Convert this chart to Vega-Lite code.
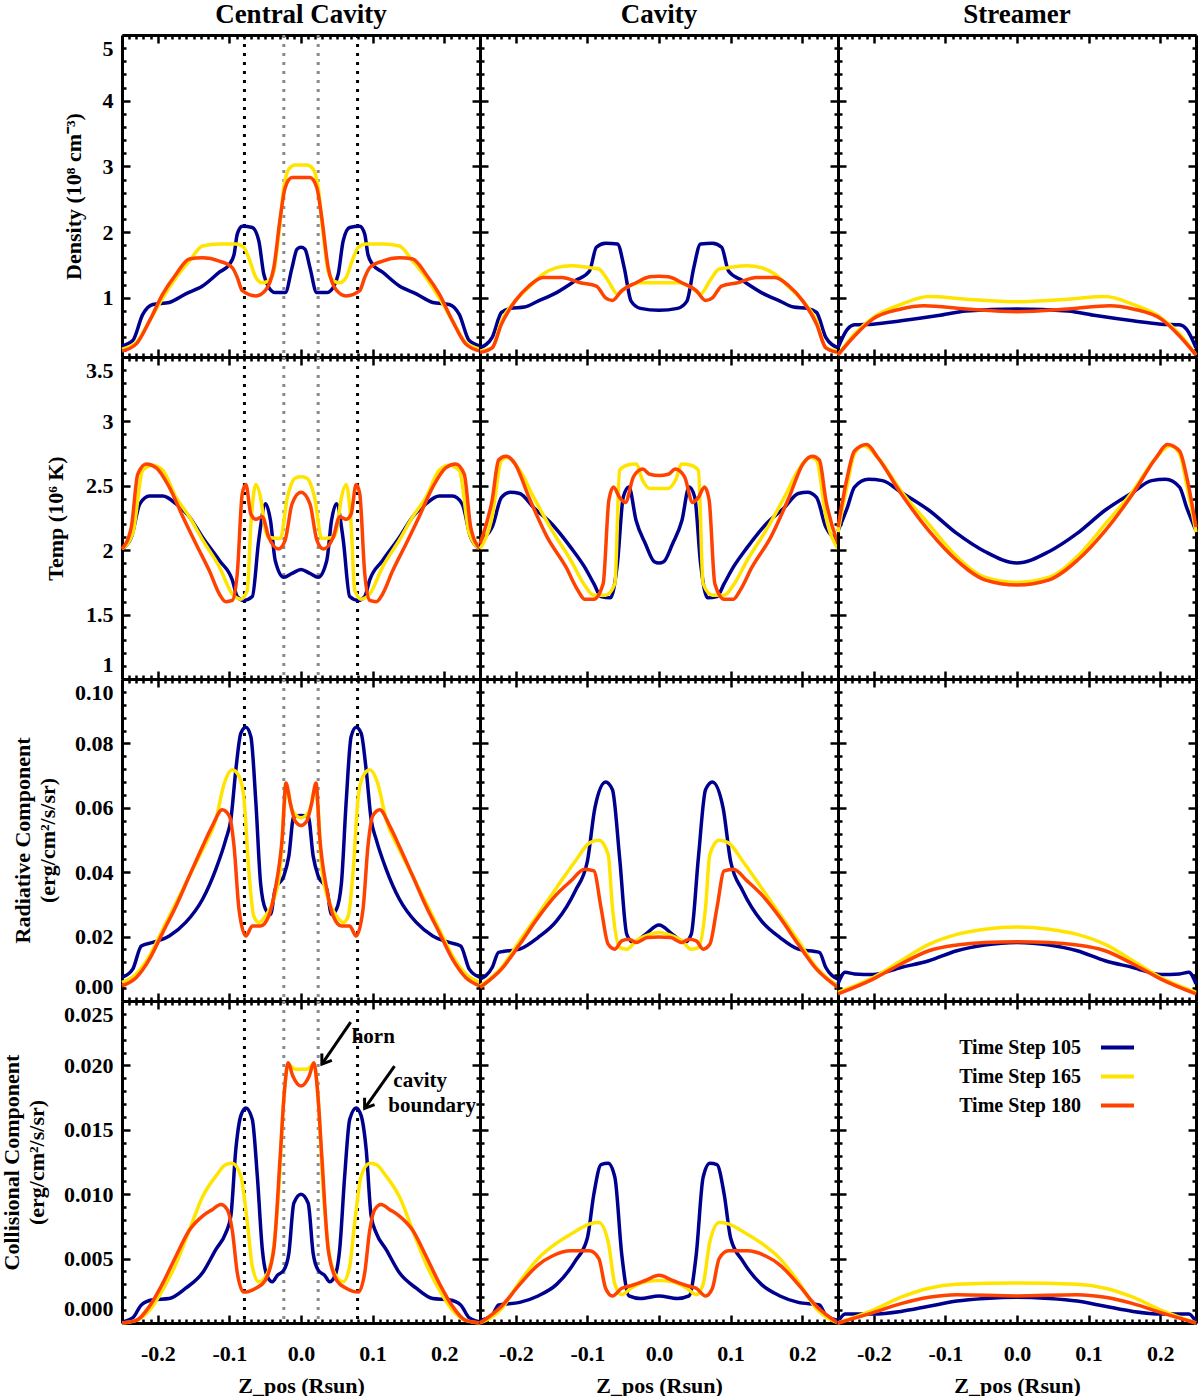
{
"$schema":"https://vega.github.io/schema/vega-lite/v6.json",
"padding":{"left":0,"top":0,"right":5,"bottom":0},
"datasets":{
"bounds":[{"z":-0.079,"k":"b"},{"z":0.079,"k":"b"},{"z":-0.024,"k":"h"},{"z":0.024,"k":"h"}],
"den_cc":[
{"s":"105","z":-0.25,"v":0.27},{"s":"105","z":-0.235,"v":0.35},{"s":"105","z":-0.221,"v":0.75},{"s":"105","z":-0.207,"v":0.9},{"s":"105","z":-0.184,"v":0.93},{"s":"105","z":-0.161,"v":1.06},{"s":"105","z":-0.1375,"v":1.18},{"s":"105","z":-0.114,"v":1.39},{"s":"105","z":-0.1,"v":1.51},{"s":"105","z":-0.0935,"v":1.66},{"s":"105","z":-0.089,"v":1.97},{"s":"105","z":-0.082,"v":2.09},{"s":"105","z":-0.068,"v":2.07},{"s":"105","z":-0.059,"v":1.87},{"s":"105","z":-0.052,"v":1.36},{"s":"105","z":-0.045,"v":1.16},{"s":"105","z":-0.036,"v":1.08},{"s":"105","z":-0.022,"v":1.08},{"s":"105","z":-0.0125,"v":1.46},{"s":"105","z":-0.0056,"v":1.74},{"s":"105","z":0,"v":1.77},{"s":"105","z":0.0056,"v":1.74},{"s":"105","z":0.0125,"v":1.46},{"s":"105","z":0.022,"v":1.08},{"s":"105","z":0.036,"v":1.08},{"s":"105","z":0.045,"v":1.16},{"s":"105","z":0.052,"v":1.36},{"s":"105","z":0.059,"v":1.87},{"s":"105","z":0.068,"v":2.07},{"s":"105","z":0.082,"v":2.09},{"s":"105","z":0.089,"v":1.97},{"s":"105","z":0.0935,"v":1.66},{"s":"105","z":0.1,"v":1.51},{"s":"105","z":0.114,"v":1.39},{"s":"105","z":0.1375,"v":1.18},{"s":"105","z":0.161,"v":1.06},{"s":"105","z":0.184,"v":0.93},{"s":"105","z":0.207,"v":0.9},{"s":"105","z":0.221,"v":0.75},{"s":"105","z":0.235,"v":0.35},{"s":"105","z":0.25,"v":0.27},
{"s":"165","z":-0.25,"v":0.22},{"s":"165","z":-0.23,"v":0.32},{"s":"165","z":-0.2116,"v":0.65},{"s":"165","z":-0.193,"v":1.0},{"s":"165","z":-0.1745,"v":1.31},{"s":"165","z":-0.156,"v":1.56},{"s":"165","z":-0.1375,"v":1.79},{"s":"165","z":-0.114,"v":1.82},{"s":"165","z":-0.091,"v":1.82},{"s":"165","z":-0.08,"v":1.77},{"s":"165","z":-0.073,"v":1.61},{"s":"165","z":-0.063,"v":1.31},{"s":"165","z":-0.054,"v":1.23},{"s":"165","z":-0.045,"v":1.26},{"s":"165","z":-0.038,"v":1.4},{"s":"165","z":-0.031,"v":1.97},{"s":"165","z":-0.024,"v":2.68},{"s":"165","z":-0.017,"v":2.96},{"s":"165","z":-0.008,"v":3.02},{"s":"165","z":0,"v":3.02},{"s":"165","z":0.008,"v":3.02},{"s":"165","z":0.017,"v":2.96},{"s":"165","z":0.024,"v":2.68},{"s":"165","z":0.031,"v":1.97},{"s":"165","z":0.038,"v":1.4},{"s":"165","z":0.045,"v":1.26},{"s":"165","z":0.054,"v":1.23},{"s":"165","z":0.063,"v":1.31},{"s":"165","z":0.073,"v":1.61},{"s":"165","z":0.08,"v":1.77},{"s":"165","z":0.091,"v":1.82},{"s":"165","z":0.114,"v":1.82},{"s":"165","z":0.1375,"v":1.79},{"s":"165","z":0.156,"v":1.56},{"s":"165","z":0.1745,"v":1.31},{"s":"165","z":0.193,"v":1.0},{"s":"165","z":0.2116,"v":0.65},{"s":"165","z":0.23,"v":0.32},{"s":"165","z":0.25,"v":0.22},
{"s":"180","z":-0.25,"v":0.19},{"s":"180","z":-0.23,"v":0.3},{"s":"180","z":-0.2116,"v":0.65},{"s":"180","z":-0.193,"v":1.06},{"s":"180","z":-0.1745,"v":1.36},{"s":"180","z":-0.156,"v":1.59},{"s":"180","z":-0.1375,"v":1.61},{"s":"180","z":-0.114,"v":1.56},{"s":"180","z":-0.096,"v":1.46},{"s":"180","z":-0.089,"v":1.31},{"s":"180","z":-0.082,"v":1.11},{"s":"180","z":-0.063,"v":1.03},{"s":"180","z":-0.05,"v":1.11},{"s":"180","z":-0.038,"v":1.46},{"s":"180","z":-0.029,"v":2.22},{"s":"180","z":-0.022,"v":2.68},{"s":"180","z":-0.0125,"v":2.83},{"s":"180","z":0,"v":2.83},{"s":"180","z":0.0125,"v":2.83},{"s":"180","z":0.022,"v":2.68},{"s":"180","z":0.029,"v":2.22},{"s":"180","z":0.038,"v":1.46},{"s":"180","z":0.05,"v":1.11},{"s":"180","z":0.063,"v":1.03},{"s":"180","z":0.082,"v":1.11},{"s":"180","z":0.089,"v":1.31},{"s":"180","z":0.096,"v":1.46},{"s":"180","z":0.114,"v":1.56},{"s":"180","z":0.1375,"v":1.61},{"s":"180","z":0.156,"v":1.59},{"s":"180","z":0.1745,"v":1.36},{"s":"180","z":0.193,"v":1.06},{"s":"180","z":0.2116,"v":0.65},{"s":"180","z":0.23,"v":0.3},{"s":"180","z":0.25,"v":0.19}
],
"den_cav":[
{"s":"105","z":-0.25,"v":0.24},{"s":"105","z":-0.233,"v":0.4},{"s":"105","z":-0.22,"v":0.78},{"s":"105","z":-0.2075,"v":0.84},{"s":"105","z":-0.188,"v":0.86},{"s":"105","z":-0.169,"v":0.95},{"s":"105","z":-0.143,"v":1.08},{"s":"105","z":-0.117,"v":1.26},{"s":"105","z":-0.097,"v":1.41},{"s":"105","z":-0.0875,"v":1.77},{"s":"105","z":-0.0746,"v":1.83},{"s":"105","z":-0.058,"v":1.82},{"s":"105","z":-0.0486,"v":1.46},{"s":"105","z":-0.039,"v":0.95},{"s":"105","z":-0.026,"v":0.84},{"s":"105","z":0,"v":0.81},{"s":"105","z":0.026,"v":0.84},{"s":"105","z":0.039,"v":0.95},{"s":"105","z":0.0486,"v":1.46},{"s":"105","z":0.058,"v":1.82},{"s":"105","z":0.0746,"v":1.83},{"s":"105","z":0.0875,"v":1.77},{"s":"105","z":0.097,"v":1.41},{"s":"105","z":0.117,"v":1.26},{"s":"105","z":0.143,"v":1.08},{"s":"105","z":0.169,"v":0.95},{"s":"105","z":0.188,"v":0.86},{"s":"105","z":0.2075,"v":0.84},{"s":"105","z":0.22,"v":0.78},{"s":"105","z":0.233,"v":0.4},{"s":"105","z":0.25,"v":0.24},
{"s":"165","z":-0.25,"v":0.19},{"s":"165","z":-0.233,"v":0.24},{"s":"165","z":-0.22,"v":0.65},{"s":"165","z":-0.201,"v":0.95},{"s":"165","z":-0.1816,"v":1.16},{"s":"165","z":-0.162,"v":1.36},{"s":"165","z":-0.143,"v":1.46},{"s":"165","z":-0.123,"v":1.49},{"s":"165","z":-0.097,"v":1.46},{"s":"165","z":-0.084,"v":1.44},{"s":"165","z":-0.071,"v":1.26},{"s":"165","z":-0.058,"v":1.06},{"s":"165","z":-0.045,"v":1.16},{"s":"165","z":-0.026,"v":1.23},{"s":"165","z":0,"v":1.23},{"s":"165","z":0.026,"v":1.23},{"s":"165","z":0.045,"v":1.16},{"s":"165","z":0.058,"v":1.06},{"s":"165","z":0.071,"v":1.26},{"s":"165","z":0.084,"v":1.44},{"s":"165","z":0.097,"v":1.46},{"s":"165","z":0.123,"v":1.49},{"s":"165","z":0.143,"v":1.46},{"s":"165","z":0.162,"v":1.36},{"s":"165","z":0.1816,"v":1.16},{"s":"165","z":0.201,"v":0.95},{"s":"165","z":0.22,"v":0.65},{"s":"165","z":0.233,"v":0.24},{"s":"165","z":0.25,"v":0.19},
{"s":"180","z":-0.25,"v":0.17},{"s":"180","z":-0.233,"v":0.24},{"s":"180","z":-0.22,"v":0.6},{"s":"180","z":-0.201,"v":0.95},{"s":"180","z":-0.1816,"v":1.18},{"s":"180","z":-0.162,"v":1.31},{"s":"180","z":-0.136,"v":1.31},{"s":"180","z":-0.11,"v":1.23},{"s":"180","z":-0.0875,"v":1.18},{"s":"180","z":-0.0746,"v":1.0},{"s":"180","z":-0.065,"v":0.96},{"s":"180","z":-0.052,"v":1.11},{"s":"180","z":-0.032,"v":1.23},{"s":"180","z":-0.013,"v":1.32},{"s":"180","z":0,"v":1.33},{"s":"180","z":0.013,"v":1.32},{"s":"180","z":0.032,"v":1.23},{"s":"180","z":0.052,"v":1.11},{"s":"180","z":0.065,"v":0.96},{"s":"180","z":0.0746,"v":1.0},{"s":"180","z":0.0875,"v":1.18},{"s":"180","z":0.11,"v":1.23},{"s":"180","z":0.136,"v":1.31},{"s":"180","z":0.162,"v":1.31},{"s":"180","z":0.1816,"v":1.18},{"s":"180","z":0.201,"v":0.95},{"s":"180","z":0.22,"v":0.6},{"s":"180","z":0.233,"v":0.24},{"s":"180","z":0.25,"v":0.17}
],
"den_str":[
{"s":"105","z":-0.25,"v":0.24},{"s":"105","z":-0.237,"v":0.52},{"s":"105","z":-0.227,"v":0.59},{"s":"105","z":-0.201,"v":0.6},{"s":"105","z":-0.162,"v":0.65},{"s":"105","z":-0.11,"v":0.73},{"s":"105","z":-0.071,"v":0.8},{"s":"105","z":0,"v":0.83},{"s":"105","z":0.071,"v":0.8},{"s":"105","z":0.11,"v":0.73},{"s":"105","z":0.162,"v":0.65},{"s":"105","z":0.201,"v":0.6},{"s":"105","z":0.227,"v":0.59},{"s":"105","z":0.237,"v":0.52},{"s":"105","z":0.25,"v":0.24},
{"s":"165","z":-0.25,"v":0.13},{"s":"165","z":-0.227,"v":0.45},{"s":"165","z":-0.201,"v":0.7},{"s":"165","z":-0.162,"v":0.9},{"s":"165","z":-0.123,"v":1.02},{"s":"165","z":-0.071,"v":0.98},{"s":"165","z":0,"v":0.94},{"s":"165","z":0.071,"v":0.98},{"s":"165","z":0.123,"v":1.02},{"s":"165","z":0.162,"v":0.9},{"s":"165","z":0.201,"v":0.7},{"s":"165","z":0.227,"v":0.45},{"s":"165","z":0.25,"v":0.13},
{"s":"180","z":-0.25,"v":0.13},{"s":"180","z":-0.227,"v":0.42},{"s":"180","z":-0.201,"v":0.68},{"s":"180","z":-0.162,"v":0.83},{"s":"180","z":-0.13,"v":0.88},{"s":"180","z":-0.071,"v":0.83},{"s":"180","z":0,"v":0.79},{"s":"180","z":0.071,"v":0.83},{"s":"180","z":0.13,"v":0.88},{"s":"180","z":0.162,"v":0.83},{"s":"180","z":0.201,"v":0.68},{"s":"180","z":0.227,"v":0.42},{"s":"180","z":0.25,"v":0.13}
],
"tem_cc":[
{"s":"105","z":-0.25,"v":2.01},{"s":"105","z":-0.237,"v":2.1},{"s":"105","z":-0.225,"v":2.36},{"s":"105","z":-0.2116,"v":2.42},{"s":"105","z":-0.193,"v":2.42},{"s":"105","z":-0.1745,"v":2.36},{"s":"105","z":-0.156,"v":2.26},{"s":"105","z":-0.1375,"v":2.1},{"s":"105","z":-0.114,"v":1.92},{"s":"105","z":-0.096,"v":1.77},{"s":"105","z":-0.089,"v":1.64},{"s":"105","z":-0.08,"v":1.61},{"s":"105","z":-0.068,"v":1.64},{"s":"105","z":-0.059,"v":2.08},{"s":"105","z":-0.0495,"v":2.36},{"s":"105","z":-0.0426,"v":2.23},{"s":"105","z":-0.036,"v":1.92},{"s":"105","z":-0.024,"v":1.79},{"s":"105","z":-0.0125,"v":1.82},{"s":"105","z":0,"v":1.85},{"s":"105","z":0.0125,"v":1.82},{"s":"105","z":0.024,"v":1.79},{"s":"105","z":0.036,"v":1.92},{"s":"105","z":0.0426,"v":2.23},{"s":"105","z":0.0495,"v":2.36},{"s":"105","z":0.059,"v":2.08},{"s":"105","z":0.068,"v":1.64},{"s":"105","z":0.08,"v":1.61},{"s":"105","z":0.089,"v":1.64},{"s":"105","z":0.096,"v":1.77},{"s":"105","z":0.114,"v":1.92},{"s":"105","z":0.1375,"v":2.1},{"s":"105","z":0.156,"v":2.26},{"s":"105","z":0.1745,"v":2.36},{"s":"105","z":0.193,"v":2.42},{"s":"105","z":0.2116,"v":2.42},{"s":"105","z":0.225,"v":2.36},{"s":"105","z":0.237,"v":2.1},{"s":"105","z":0.25,"v":2.01},
{"s":"165","z":-0.25,"v":2.01},{"s":"165","z":-0.235,"v":2.13},{"s":"165","z":-0.221,"v":2.62},{"s":"165","z":-0.207,"v":2.66},{"s":"165","z":-0.193,"v":2.62},{"s":"165","z":-0.1745,"v":2.41},{"s":"165","z":-0.156,"v":2.26},{"s":"165","z":-0.1375,"v":2.08},{"s":"165","z":-0.114,"v":1.87},{"s":"165","z":-0.096,"v":1.66},{"s":"165","z":-0.084,"v":1.62},{"s":"165","z":-0.075,"v":1.69},{"s":"165","z":-0.07,"v":2.2},{"s":"165","z":-0.063,"v":2.51},{"s":"165","z":-0.0565,"v":2.41},{"s":"165","z":-0.0495,"v":2.15},{"s":"165","z":-0.045,"v":2.1},{"s":"165","z":-0.029,"v":2.09},{"s":"165","z":-0.019,"v":2.41},{"s":"165","z":-0.008,"v":2.56},{"s":"165","z":0,"v":2.57},{"s":"165","z":0.008,"v":2.56},{"s":"165","z":0.019,"v":2.41},{"s":"165","z":0.029,"v":2.09},{"s":"165","z":0.045,"v":2.1},{"s":"165","z":0.0495,"v":2.15},{"s":"165","z":0.0565,"v":2.41},{"s":"165","z":0.063,"v":2.51},{"s":"165","z":0.07,"v":2.2},{"s":"165","z":0.075,"v":1.69},{"s":"165","z":0.084,"v":1.62},{"s":"165","z":0.096,"v":1.66},{"s":"165","z":0.114,"v":1.87},{"s":"165","z":0.1375,"v":2.08},{"s":"165","z":0.156,"v":2.26},{"s":"165","z":0.1745,"v":2.41},{"s":"165","z":0.193,"v":2.62},{"s":"165","z":0.207,"v":2.66},{"s":"165","z":0.221,"v":2.62},{"s":"165","z":0.235,"v":2.13},{"s":"165","z":0.25,"v":2.01},
{"s":"180","z":-0.25,"v":2.01},{"s":"180","z":-0.237,"v":2.18},{"s":"180","z":-0.228,"v":2.59},{"s":"180","z":-0.216,"v":2.67},{"s":"180","z":-0.202,"v":2.64},{"s":"180","z":-0.184,"v":2.49},{"s":"180","z":-0.165,"v":2.26},{"s":"180","z":-0.1468,"v":2.05},{"s":"180","z":-0.128,"v":1.84},{"s":"180","z":-0.114,"v":1.66},{"s":"180","z":-0.105,"v":1.6},{"s":"180","z":-0.096,"v":1.61},{"s":"180","z":-0.089,"v":1.82},{"s":"180","z":-0.082,"v":2.44},{"s":"180","z":-0.077,"v":2.51},{"s":"180","z":-0.07,"v":2.28},{"s":"180","z":-0.063,"v":2.24},{"s":"180","z":-0.054,"v":2.26},{"s":"180","z":-0.045,"v":2.1},{"s":"180","z":-0.031,"v":2.01},{"s":"180","z":-0.022,"v":2.08},{"s":"180","z":-0.0125,"v":2.36},{"s":"180","z":0,"v":2.45},{"s":"180","z":0.0125,"v":2.36},{"s":"180","z":0.022,"v":2.08},{"s":"180","z":0.031,"v":2.01},{"s":"180","z":0.045,"v":2.1},{"s":"180","z":0.054,"v":2.26},{"s":"180","z":0.063,"v":2.24},{"s":"180","z":0.07,"v":2.28},{"s":"180","z":0.077,"v":2.51},{"s":"180","z":0.082,"v":2.44},{"s":"180","z":0.089,"v":1.82},{"s":"180","z":0.096,"v":1.61},{"s":"180","z":0.105,"v":1.6},{"s":"180","z":0.114,"v":1.66},{"s":"180","z":0.128,"v":1.84},{"s":"180","z":0.1468,"v":2.05},{"s":"180","z":0.165,"v":2.26},{"s":"180","z":0.184,"v":2.49},{"s":"180","z":0.202,"v":2.64},{"s":"180","z":0.216,"v":2.67},{"s":"180","z":0.228,"v":2.59},{"s":"180","z":0.237,"v":2.18},{"s":"180","z":0.25,"v":2.01}
],
"tem_cav":[
{"s":"105","z":-0.25,"v":2.08},{"s":"105","z":-0.233,"v":2.18},{"s":"105","z":-0.22,"v":2.41},{"s":"105","z":-0.2075,"v":2.45},{"s":"105","z":-0.1945,"v":2.44},{"s":"105","z":-0.175,"v":2.33},{"s":"105","z":-0.149,"v":2.2},{"s":"105","z":-0.123,"v":2.02},{"s":"105","z":-0.104,"v":1.87},{"s":"105","z":-0.091,"v":1.74},{"s":"105","z":-0.081,"v":1.64},{"s":"105","z":-0.068,"v":1.63},{"s":"105","z":-0.058,"v":1.9},{"s":"105","z":-0.05,"v":2.41},{"s":"105","z":-0.042,"v":2.49},{"s":"105","z":-0.032,"v":2.23},{"s":"105","z":-0.019,"v":2.05},{"s":"105","z":-0.0065,"v":1.91},{"s":"105","z":0,"v":1.9},{"s":"105","z":0.0065,"v":1.91},{"s":"105","z":0.019,"v":2.05},{"s":"105","z":0.032,"v":2.23},{"s":"105","z":0.042,"v":2.49},{"s":"105","z":0.05,"v":2.41},{"s":"105","z":0.058,"v":1.9},{"s":"105","z":0.068,"v":1.63},{"s":"105","z":0.081,"v":1.64},{"s":"105","z":0.091,"v":1.74},{"s":"105","z":0.104,"v":1.87},{"s":"105","z":0.123,"v":2.02},{"s":"105","z":0.149,"v":2.2},{"s":"105","z":0.175,"v":2.33},{"s":"105","z":0.1945,"v":2.44},{"s":"105","z":0.2075,"v":2.45},{"s":"105","z":0.22,"v":2.41},{"s":"105","z":0.233,"v":2.18},{"s":"105","z":0.25,"v":2.08},
{"s":"165","z":-0.25,"v":2.01},{"s":"165","z":-0.233,"v":2.26},{"s":"165","z":-0.22,"v":2.7},{"s":"165","z":-0.211,"v":2.72},{"s":"165","z":-0.1945,"v":2.62},{"s":"165","z":-0.175,"v":2.41},{"s":"165","z":-0.149,"v":2.15},{"s":"165","z":-0.123,"v":1.92},{"s":"165","z":-0.104,"v":1.73},{"s":"165","z":-0.091,"v":1.65},{"s":"165","z":-0.0746,"v":1.65},{"s":"165","z":-0.0616,"v":1.74},{"s":"165","z":-0.055,"v":2.62},{"s":"165","z":-0.045,"v":2.66},{"s":"165","z":-0.032,"v":2.67},{"s":"165","z":-0.0227,"v":2.54},{"s":"165","z":-0.013,"v":2.48},{"s":"165","z":0,"v":2.48},{"s":"165","z":0.013,"v":2.48},{"s":"165","z":0.0227,"v":2.54},{"s":"165","z":0.032,"v":2.67},{"s":"165","z":0.045,"v":2.66},{"s":"165","z":0.055,"v":2.62},{"s":"165","z":0.0616,"v":1.74},{"s":"165","z":0.0746,"v":1.65},{"s":"165","z":0.091,"v":1.65},{"s":"165","z":0.104,"v":1.73},{"s":"165","z":0.123,"v":1.92},{"s":"165","z":0.149,"v":2.15},{"s":"165","z":0.175,"v":2.41},{"s":"165","z":0.1945,"v":2.62},{"s":"165","z":0.211,"v":2.72},{"s":"165","z":0.22,"v":2.7},{"s":"165","z":0.233,"v":2.26},{"s":"165","z":0.25,"v":2.01},
{"s":"180","z":-0.25,"v":2.05},{"s":"180","z":-0.233,"v":2.39},{"s":"180","z":-0.224,"v":2.7},{"s":"180","z":-0.214,"v":2.73},{"s":"180","z":-0.201,"v":2.67},{"s":"180","z":-0.1816,"v":2.41},{"s":"180","z":-0.156,"v":2.1},{"s":"180","z":-0.13,"v":1.87},{"s":"180","z":-0.1135,"v":1.69},{"s":"180","z":-0.104,"v":1.62},{"s":"180","z":-0.091,"v":1.62},{"s":"180","z":-0.078,"v":1.74},{"s":"180","z":-0.07,"v":2.39},{"s":"180","z":-0.0636,"v":2.49},{"s":"180","z":-0.055,"v":2.41},{"s":"180","z":-0.047,"v":2.37},{"s":"180","z":-0.0357,"v":2.57},{"s":"180","z":-0.0227,"v":2.63},{"s":"180","z":-0.013,"v":2.59},{"s":"180","z":0,"v":2.58},{"s":"180","z":0.013,"v":2.59},{"s":"180","z":0.0227,"v":2.63},{"s":"180","z":0.0357,"v":2.57},{"s":"180","z":0.047,"v":2.37},{"s":"180","z":0.055,"v":2.41},{"s":"180","z":0.0636,"v":2.49},{"s":"180","z":0.07,"v":2.39},{"s":"180","z":0.078,"v":1.74},{"s":"180","z":0.091,"v":1.62},{"s":"180","z":0.104,"v":1.62},{"s":"180","z":0.1135,"v":1.69},{"s":"180","z":0.13,"v":1.87},{"s":"180","z":0.156,"v":2.1},{"s":"180","z":0.1816,"v":2.41},{"s":"180","z":0.201,"v":2.67},{"s":"180","z":0.214,"v":2.73},{"s":"180","z":0.224,"v":2.7},{"s":"180","z":0.233,"v":2.39},{"s":"180","z":0.25,"v":2.05}
],
"tem_str":[
{"s":"105","z":-0.25,"v":2.15},{"s":"105","z":-0.237,"v":2.33},{"s":"105","z":-0.227,"v":2.49},{"s":"105","z":-0.2075,"v":2.55},{"s":"105","z":-0.188,"v":2.54},{"s":"105","z":-0.162,"v":2.45},{"s":"105","z":-0.123,"v":2.31},{"s":"105","z":-0.084,"v":2.13},{"s":"105","z":-0.045,"v":1.99},{"s":"105","z":0,"v":1.9},{"s":"105","z":0.045,"v":1.99},{"s":"105","z":0.084,"v":2.13},{"s":"105","z":0.123,"v":2.31},{"s":"105","z":0.162,"v":2.45},{"s":"105","z":0.188,"v":2.54},{"s":"105","z":0.2075,"v":2.55},{"s":"105","z":0.227,"v":2.49},{"s":"105","z":0.237,"v":2.33},{"s":"105","z":0.25,"v":2.15},
{"s":"165","z":-0.25,"v":2.14},{"s":"165","z":-0.237,"v":2.51},{"s":"165","z":-0.227,"v":2.75},{"s":"165","z":-0.214,"v":2.81},{"s":"165","z":-0.1945,"v":2.72},{"s":"165","z":-0.162,"v":2.46},{"s":"165","z":-0.123,"v":2.2},{"s":"165","z":-0.084,"v":1.95},{"s":"165","z":-0.045,"v":1.79},{"s":"165","z":0,"v":1.75},{"s":"165","z":0.045,"v":1.79},{"s":"165","z":0.084,"v":1.95},{"s":"165","z":0.123,"v":2.2},{"s":"165","z":0.162,"v":2.46},{"s":"165","z":0.1945,"v":2.72},{"s":"165","z":0.214,"v":2.81},{"s":"165","z":0.227,"v":2.75},{"s":"165","z":0.237,"v":2.51},{"s":"165","z":0.25,"v":2.14},
{"s":"180","z":-0.25,"v":2.18},{"s":"180","z":-0.237,"v":2.57},{"s":"180","z":-0.227,"v":2.77},{"s":"180","z":-0.21,"v":2.82},{"s":"180","z":-0.1945,"v":2.72},{"s":"180","z":-0.162,"v":2.44},{"s":"180","z":-0.123,"v":2.15},{"s":"180","z":-0.084,"v":1.92},{"s":"180","z":-0.045,"v":1.77},{"s":"180","z":0,"v":1.73},{"s":"180","z":0.045,"v":1.77},{"s":"180","z":0.084,"v":1.92},{"s":"180","z":0.123,"v":2.15},{"s":"180","z":0.162,"v":2.44},{"s":"180","z":0.1945,"v":2.72},{"s":"180","z":0.21,"v":2.82},{"s":"180","z":0.227,"v":2.77},{"s":"180","z":0.237,"v":2.57},{"s":"180","z":0.25,"v":2.18}
],
"rad_cc":[
{"s":"105","z":-0.25,"v":0.0073},{"s":"105","z":-0.235,"v":0.0099},{"s":"105","z":-0.223,"v":0.0171},{"s":"105","z":-0.207,"v":0.0182},{"s":"105","z":-0.184,"v":0.0202},{"s":"105","z":-0.161,"v":0.0244},{"s":"105","z":-0.1375,"v":0.0316},{"s":"105","z":-0.119,"v":0.0409},{"s":"105","z":-0.105,"v":0.0502},{"s":"105","z":-0.098,"v":0.0563},{"s":"105","z":-0.091,"v":0.0718},{"s":"105","z":-0.084,"v":0.0832},{"s":"105","z":-0.077,"v":0.085},{"s":"105","z":-0.07,"v":0.0821},{"s":"105","z":-0.063,"v":0.0615},{"s":"105","z":-0.0565,"v":0.0367},{"s":"105","z":-0.0495,"v":0.0285},{"s":"105","z":-0.0426,"v":0.0269},{"s":"105","z":-0.036,"v":0.0347},{"s":"105","z":-0.024,"v":0.0388},{"s":"105","z":-0.017,"v":0.045},{"s":"105","z":-0.01,"v":0.0574},{"s":"105","z":0,"v":0.0576},{"s":"105","z":0.01,"v":0.0574},{"s":"105","z":0.017,"v":0.045},{"s":"105","z":0.024,"v":0.0388},{"s":"105","z":0.036,"v":0.0347},{"s":"105","z":0.0426,"v":0.0269},{"s":"105","z":0.0495,"v":0.0285},{"s":"105","z":0.0565,"v":0.0367},{"s":"105","z":0.063,"v":0.0615},{"s":"105","z":0.07,"v":0.0821},{"s":"105","z":0.077,"v":0.085},{"s":"105","z":0.084,"v":0.0832},{"s":"105","z":0.091,"v":0.0718},{"s":"105","z":0.098,"v":0.0563},{"s":"105","z":0.105,"v":0.0502},{"s":"105","z":0.119,"v":0.0409},{"s":"105","z":0.1375,"v":0.0316},{"s":"105","z":0.161,"v":0.0244},{"s":"105","z":0.184,"v":0.0202},{"s":"105","z":0.207,"v":0.0182},{"s":"105","z":0.223,"v":0.0171},{"s":"105","z":0.235,"v":0.0099},{"s":"105","z":0.25,"v":0.0073},
{"s":"165","z":-0.25,"v":0.0058},{"s":"165","z":-0.23,"v":0.0084},{"s":"165","z":-0.2116,"v":0.014},{"s":"165","z":-0.193,"v":0.0223},{"s":"165","z":-0.1745,"v":0.0305},{"s":"165","z":-0.156,"v":0.0388},{"s":"165","z":-0.1375,"v":0.047},{"s":"165","z":-0.119,"v":0.0563},{"s":"165","z":-0.107,"v":0.0677},{"s":"165","z":-0.096,"v":0.0718},{"s":"165","z":-0.0866,"v":0.0698},{"s":"165","z":-0.08,"v":0.0636},{"s":"165","z":-0.073,"v":0.0409},{"s":"165","z":-0.066,"v":0.0264},{"s":"165","z":-0.059,"v":0.0244},{"s":"165","z":-0.0495,"v":0.0264},{"s":"165","z":-0.038,"v":0.0316},{"s":"165","z":-0.029,"v":0.0409},{"s":"165","z":-0.024,"v":0.0594},{"s":"165","z":-0.019,"v":0.0656},{"s":"165","z":-0.0125,"v":0.0594},{"s":"165","z":0,"v":0.0569},{"s":"165","z":0.0125,"v":0.0594},{"s":"165","z":0.019,"v":0.0656},{"s":"165","z":0.024,"v":0.0594},{"s":"165","z":0.029,"v":0.0409},{"s":"165","z":0.038,"v":0.0316},{"s":"165","z":0.0495,"v":0.0264},{"s":"165","z":0.059,"v":0.0244},{"s":"165","z":0.066,"v":0.0264},{"s":"165","z":0.073,"v":0.0409},{"s":"165","z":0.08,"v":0.0636},{"s":"165","z":0.0866,"v":0.0698},{"s":"165","z":0.096,"v":0.0718},{"s":"165","z":0.107,"v":0.0677},{"s":"165","z":0.119,"v":0.0563},{"s":"165","z":0.1375,"v":0.047},{"s":"165","z":0.156,"v":0.0388},{"s":"165","z":0.1745,"v":0.0305},{"s":"165","z":0.193,"v":0.0223},{"s":"165","z":0.2116,"v":0.014},{"s":"165","z":0.23,"v":0.0084},{"s":"165","z":0.25,"v":0.0058},
{"s":"180","z":-0.25,"v":0.0047},{"s":"180","z":-0.23,"v":0.0073},{"s":"180","z":-0.2116,"v":0.013},{"s":"180","z":-0.193,"v":0.0213},{"s":"180","z":-0.1745,"v":0.0295},{"s":"180","z":-0.156,"v":0.0388},{"s":"180","z":-0.1375,"v":0.048},{"s":"180","z":-0.124,"v":0.0543},{"s":"180","z":-0.11,"v":0.0594},{"s":"180","z":-0.1,"v":0.0574},{"s":"180","z":-0.0935,"v":0.048},{"s":"180","z":-0.0866,"v":0.0285},{"s":"180","z":-0.077,"v":0.0202},{"s":"180","z":-0.068,"v":0.0233},{"s":"180","z":-0.0565,"v":0.0233},{"s":"180","z":-0.045,"v":0.0264},{"s":"180","z":-0.036,"v":0.0347},{"s":"180","z":-0.026,"v":0.0512},{"s":"180","z":-0.021,"v":0.0677},{"s":"180","z":-0.015,"v":0.0615},{"s":"180","z":-0.008,"v":0.0558},{"s":"180","z":0,"v":0.0545},{"s":"180","z":0.008,"v":0.0558},{"s":"180","z":0.015,"v":0.0615},{"s":"180","z":0.021,"v":0.0677},{"s":"180","z":0.026,"v":0.0512},{"s":"180","z":0.036,"v":0.0347},{"s":"180","z":0.045,"v":0.0264},{"s":"180","z":0.0565,"v":0.0233},{"s":"180","z":0.068,"v":0.0233},{"s":"180","z":0.077,"v":0.0202},{"s":"180","z":0.0866,"v":0.0285},{"s":"180","z":0.0935,"v":0.048},{"s":"180","z":0.1,"v":0.0574},{"s":"180","z":0.11,"v":0.0594},{"s":"180","z":0.124,"v":0.0543},{"s":"180","z":0.1375,"v":0.048},{"s":"180","z":0.156,"v":0.0388},{"s":"180","z":0.1745,"v":0.0295},{"s":"180","z":0.193,"v":0.0213},{"s":"180","z":0.2116,"v":0.013},{"s":"180","z":0.23,"v":0.0073},{"s":"180","z":0.25,"v":0.0047}
],
"rad_cav":[
{"s":"105","z":-0.25,"v":0.0068},{"s":"105","z":-0.233,"v":0.0104},{"s":"105","z":-0.224,"v":0.0151},{"s":"105","z":-0.1945,"v":0.0161},{"s":"105","z":-0.169,"v":0.0197},{"s":"105","z":-0.143,"v":0.0249},{"s":"105","z":-0.117,"v":0.0342},{"s":"105","z":-0.1,"v":0.0434},{"s":"105","z":-0.0895,"v":0.06},{"s":"105","z":-0.0746,"v":0.068},{"s":"105","z":-0.065,"v":0.0656},{"s":"105","z":-0.055,"v":0.0445},{"s":"105","z":-0.045,"v":0.0207},{"s":"105","z":-0.036,"v":0.0182},{"s":"105","z":-0.019,"v":0.0207},{"s":"105","z":0,"v":0.0236},{"s":"105","z":0.019,"v":0.0207},{"s":"105","z":0.036,"v":0.0182},{"s":"105","z":0.045,"v":0.0207},{"s":"105","z":0.055,"v":0.0445},{"s":"105","z":0.065,"v":0.0656},{"s":"105","z":0.0746,"v":0.068},{"s":"105","z":0.0895,"v":0.06},{"s":"105","z":0.1,"v":0.0434},{"s":"105","z":0.117,"v":0.0342},{"s":"105","z":0.143,"v":0.0249},{"s":"105","z":0.169,"v":0.0197},{"s":"105","z":0.1945,"v":0.0161},{"s":"105","z":0.224,"v":0.0151},{"s":"105","z":0.233,"v":0.0104},{"s":"105","z":0.25,"v":0.0068},
{"s":"165","z":-0.25,"v":0.0047},{"s":"165","z":-0.22,"v":0.0104},{"s":"165","z":-0.1945,"v":0.0187},{"s":"165","z":-0.169,"v":0.0269},{"s":"165","z":-0.143,"v":0.0352},{"s":"165","z":-0.117,"v":0.0434},{"s":"165","z":-0.097,"v":0.0491},{"s":"165","z":-0.084,"v":0.0499},{"s":"165","z":-0.071,"v":0.0455},{"s":"165","z":-0.065,"v":0.029},{"s":"165","z":-0.055,"v":0.0166},{"s":"165","z":-0.045,"v":0.0161},{"s":"165","z":-0.032,"v":0.0187},{"s":"165","z":-0.013,"v":0.0207},{"s":"165","z":0,"v":0.0213},{"s":"165","z":0.013,"v":0.0207},{"s":"165","z":0.032,"v":0.0187},{"s":"165","z":0.045,"v":0.0161},{"s":"165","z":0.055,"v":0.0166},{"s":"165","z":0.065,"v":0.029},{"s":"165","z":0.071,"v":0.0455},{"s":"165","z":0.084,"v":0.0499},{"s":"165","z":0.097,"v":0.0491},{"s":"165","z":0.117,"v":0.0434},{"s":"165","z":0.143,"v":0.0352},{"s":"165","z":0.169,"v":0.0269},{"s":"165","z":0.1945,"v":0.0187},{"s":"165","z":0.22,"v":0.0104},{"s":"165","z":0.25,"v":0.0047},
{"s":"180","z":-0.25,"v":0.0042},{"s":"180","z":-0.22,"v":0.0099},{"s":"180","z":-0.1945,"v":0.0176},{"s":"180","z":-0.169,"v":0.0259},{"s":"180","z":-0.143,"v":0.0331},{"s":"180","z":-0.123,"v":0.0373},{"s":"180","z":-0.104,"v":0.0409},{"s":"180","z":-0.091,"v":0.0404},{"s":"180","z":-0.081,"v":0.029},{"s":"180","z":-0.071,"v":0.0176},{"s":"180","z":-0.0616,"v":0.0161},{"s":"180","z":-0.052,"v":0.0187},{"s":"180","z":-0.042,"v":0.0192},{"s":"180","z":-0.032,"v":0.0182},{"s":"180","z":-0.016,"v":0.0197},{"s":"180","z":0,"v":0.0199},{"s":"180","z":0.016,"v":0.0197},{"s":"180","z":0.032,"v":0.0182},{"s":"180","z":0.042,"v":0.0192},{"s":"180","z":0.052,"v":0.0187},{"s":"180","z":0.0616,"v":0.0161},{"s":"180","z":0.071,"v":0.0176},{"s":"180","z":0.081,"v":0.029},{"s":"180","z":0.091,"v":0.0404},{"s":"180","z":0.104,"v":0.0409},{"s":"180","z":0.123,"v":0.0373},{"s":"180","z":0.143,"v":0.0331},{"s":"180","z":0.169,"v":0.0259},{"s":"180","z":0.1945,"v":0.0176},{"s":"180","z":0.22,"v":0.0099},{"s":"180","z":0.25,"v":0.0042}
],
"rad_str":[
{"s":"105","z":-0.25,"v":0.0053},{"s":"105","z":-0.24,"v":0.0089},{"s":"105","z":-0.227,"v":0.0084},{"s":"105","z":-0.201,"v":0.0082},{"s":"105","z":-0.162,"v":0.0104},{"s":"105","z":-0.123,"v":0.0125},{"s":"105","z":-0.084,"v":0.0156},{"s":"105","z":-0.045,"v":0.0174},{"s":"105","z":0,"v":0.0182},{"s":"105","z":0.045,"v":0.0174},{"s":"105","z":0.084,"v":0.0156},{"s":"105","z":0.123,"v":0.0125},{"s":"105","z":0.162,"v":0.0104},{"s":"105","z":0.201,"v":0.0082},{"s":"105","z":0.227,"v":0.0084},{"s":"105","z":0.24,"v":0.0089},{"s":"105","z":0.25,"v":0.0053},
{"s":"165","z":-0.25,"v":0.0027},{"s":"165","z":-0.201,"v":0.0073},{"s":"165","z":-0.162,"v":0.0125},{"s":"165","z":-0.123,"v":0.0176},{"s":"165","z":-0.084,"v":0.0207},{"s":"165","z":-0.045,"v":0.0223},{"s":"165","z":0,"v":0.023},{"s":"165","z":0.045,"v":0.0223},{"s":"165","z":0.084,"v":0.0207},{"s":"165","z":0.123,"v":0.0176},{"s":"165","z":0.162,"v":0.0125},{"s":"165","z":0.201,"v":0.0073},{"s":"165","z":0.25,"v":0.0027},
{"s":"180","z":-0.25,"v":0.0022},{"s":"180","z":-0.201,"v":0.0068},{"s":"180","z":-0.162,"v":0.0115},{"s":"180","z":-0.123,"v":0.0156},{"s":"180","z":-0.084,"v":0.0174},{"s":"180","z":-0.045,"v":0.0182},{"s":"180","z":0,"v":0.0184},{"s":"180","z":0.045,"v":0.0182},{"s":"180","z":0.084,"v":0.0174},{"s":"180","z":0.123,"v":0.0156},{"s":"180","z":0.162,"v":0.0115},{"s":"180","z":0.201,"v":0.0068},{"s":"180","z":0.25,"v":0.0022}
],
"col_cc":[
{"s":"105","z":-0.25,"v":0.0001},{"s":"105","z":-0.235,"v":0.0004},{"s":"105","z":-0.223,"v":0.0014},{"s":"105","z":-0.207,"v":0.0018},{"s":"105","z":-0.184,"v":0.0019},{"s":"105","z":-0.161,"v":0.0027},{"s":"105","z":-0.1375,"v":0.0039},{"s":"105","z":-0.119,"v":0.0057},{"s":"105","z":-0.105,"v":0.007},{"s":"105","z":-0.098,"v":0.0083},{"s":"105","z":-0.091,"v":0.0135},{"s":"105","z":-0.084,"v":0.0161},{"s":"105","z":-0.077,"v":0.0167},{"s":"105","z":-0.068,"v":0.0158},{"s":"105","z":-0.061,"v":0.0114},{"s":"105","z":-0.054,"v":0.0057},{"s":"105","z":-0.047,"v":0.0036},{"s":"105","z":-0.04,"v":0.0032},{"s":"105","z":-0.033,"v":0.0037},{"s":"105","z":-0.024,"v":0.0041},{"s":"105","z":-0.017,"v":0.0054},{"s":"105","z":-0.01,"v":0.0093},{"s":"105","z":0,"v":0.01},{"s":"105","z":0.01,"v":0.0093},{"s":"105","z":0.017,"v":0.0054},{"s":"105","z":0.024,"v":0.0041},{"s":"105","z":0.033,"v":0.0037},{"s":"105","z":0.04,"v":0.0032},{"s":"105","z":0.047,"v":0.0036},{"s":"105","z":0.054,"v":0.0057},{"s":"105","z":0.061,"v":0.0114},{"s":"105","z":0.068,"v":0.0158},{"s":"105","z":0.077,"v":0.0167},{"s":"105","z":0.084,"v":0.0161},{"s":"105","z":0.091,"v":0.0135},{"s":"105","z":0.098,"v":0.0083},{"s":"105","z":0.105,"v":0.007},{"s":"105","z":0.119,"v":0.0057},{"s":"105","z":0.1375,"v":0.0039},{"s":"105","z":0.161,"v":0.0027},{"s":"105","z":0.184,"v":0.0019},{"s":"105","z":0.207,"v":0.0018},{"s":"105","z":0.223,"v":0.0014},{"s":"105","z":0.235,"v":0.0004},{"s":"105","z":0.25,"v":0.0001},
{"s":"165","z":-0.25,"v":0.0},{"s":"165","z":-0.23,"v":0.0002},{"s":"165","z":-0.2116,"v":0.001},{"s":"165","z":-0.193,"v":0.0026},{"s":"165","z":-0.1745,"v":0.0046},{"s":"165","z":-0.156,"v":0.0072},{"s":"165","z":-0.1375,"v":0.0098},{"s":"165","z":-0.119,"v":0.0114},{"s":"165","z":-0.105,"v":0.0123},{"s":"165","z":-0.096,"v":0.0124},{"s":"165","z":-0.084,"v":0.0114},{"s":"165","z":-0.075,"v":0.0078},{"s":"165","z":-0.068,"v":0.0044},{"s":"165","z":-0.059,"v":0.0032},{"s":"165","z":-0.0495,"v":0.0036},{"s":"165","z":-0.04,"v":0.0052},{"s":"165","z":-0.031,"v":0.0104},{"s":"165","z":-0.024,"v":0.0174},{"s":"165","z":-0.018,"v":0.0201},{"s":"165","z":-0.008,"v":0.0197},{"s":"165","z":0,"v":0.0197},{"s":"165","z":0.008,"v":0.0197},{"s":"165","z":0.018,"v":0.0201},{"s":"165","z":0.024,"v":0.0174},{"s":"165","z":0.031,"v":0.0104},{"s":"165","z":0.04,"v":0.0052},{"s":"165","z":0.0495,"v":0.0036},{"s":"165","z":0.059,"v":0.0032},{"s":"165","z":0.068,"v":0.0044},{"s":"165","z":0.075,"v":0.0078},{"s":"165","z":0.084,"v":0.0114},{"s":"165","z":0.096,"v":0.0124},{"s":"165","z":0.105,"v":0.0123},{"s":"165","z":0.119,"v":0.0114},{"s":"165","z":0.1375,"v":0.0098},{"s":"165","z":0.156,"v":0.0072},{"s":"165","z":0.1745,"v":0.0046},{"s":"165","z":0.193,"v":0.0026},{"s":"165","z":0.2116,"v":0.001},{"s":"165","z":0.23,"v":0.0002},{"s":"165","z":0.25,"v":0.0},
{"s":"180","z":-0.25,"v":0.0},{"s":"180","z":-0.23,"v":0.0002},{"s":"180","z":-0.2116,"v":0.0013},{"s":"180","z":-0.193,"v":0.0031},{"s":"180","z":-0.1745,"v":0.0052},{"s":"180","z":-0.156,"v":0.0072},{"s":"180","z":-0.1375,"v":0.0083},{"s":"180","z":-0.124,"v":0.0088},{"s":"180","z":-0.112,"v":0.0092},{"s":"180","z":-0.103,"v":0.0088},{"s":"180","z":-0.096,"v":0.0072},{"s":"180","z":-0.089,"v":0.0039},{"s":"180","z":-0.08,"v":0.0024},{"s":"180","z":-0.063,"v":0.0027},{"s":"180","z":-0.05,"v":0.0033},{"s":"180","z":-0.038,"v":0.0057},{"s":"180","z":-0.029,"v":0.013},{"s":"180","z":-0.023,"v":0.0181},{"s":"180","z":-0.018,"v":0.0202},{"s":"180","z":-0.0116,"v":0.0192},{"s":"180","z":0,"v":0.0184},{"s":"180","z":0.0116,"v":0.0192},{"s":"180","z":0.018,"v":0.0202},{"s":"180","z":0.023,"v":0.0181},{"s":"180","z":0.029,"v":0.013},{"s":"180","z":0.038,"v":0.0057},{"s":"180","z":0.05,"v":0.0033},{"s":"180","z":0.063,"v":0.0027},{"s":"180","z":0.08,"v":0.0024},{"s":"180","z":0.089,"v":0.0039},{"s":"180","z":0.096,"v":0.0072},{"s":"180","z":0.103,"v":0.0088},{"s":"180","z":0.112,"v":0.0092},{"s":"180","z":0.124,"v":0.0088},{"s":"180","z":0.1375,"v":0.0083},{"s":"180","z":0.156,"v":0.0072},{"s":"180","z":0.1745,"v":0.0052},{"s":"180","z":0.193,"v":0.0031},{"s":"180","z":0.2116,"v":0.0013},{"s":"180","z":0.23,"v":0.0002},{"s":"180","z":0.25,"v":0.0}
],
"col_cav":[
{"s":"105","z":-0.25,"v":0.0002},{"s":"105","z":-0.233,"v":0.0006},{"s":"105","z":-0.224,"v":0.0014},{"s":"105","z":-0.1945,"v":0.0016},{"s":"105","z":-0.169,"v":0.0021},{"s":"105","z":-0.143,"v":0.003},{"s":"105","z":-0.117,"v":0.0048},{"s":"105","z":-0.1,"v":0.0066},{"s":"105","z":-0.091,"v":0.01},{"s":"105","z":-0.081,"v":0.0123},{"s":"105","z":-0.071,"v":0.0124},{"s":"105","z":-0.0616,"v":0.0113},{"s":"105","z":-0.052,"v":0.0053},{"s":"105","z":-0.042,"v":0.0021},{"s":"105","z":-0.026,"v":0.0019},{"s":"105","z":0,"v":0.0021},{"s":"105","z":0.026,"v":0.0019},{"s":"105","z":0.042,"v":0.0021},{"s":"105","z":0.052,"v":0.0053},{"s":"105","z":0.0616,"v":0.0113},{"s":"105","z":0.071,"v":0.0124},{"s":"105","z":0.081,"v":0.0123},{"s":"105","z":0.091,"v":0.01},{"s":"105","z":0.1,"v":0.0066},{"s":"105","z":0.117,"v":0.0048},{"s":"105","z":0.143,"v":0.003},{"s":"105","z":0.169,"v":0.0021},{"s":"105","z":0.1945,"v":0.0016},{"s":"105","z":0.224,"v":0.0014},{"s":"105","z":0.233,"v":0.0006},{"s":"105","z":0.25,"v":0.0002},
{"s":"165","z":-0.25,"v":0.0},{"s":"165","z":-0.22,"v":0.0011},{"s":"165","z":-0.1945,"v":0.0032},{"s":"165","z":-0.169,"v":0.005},{"s":"165","z":-0.143,"v":0.0062},{"s":"165","z":-0.117,"v":0.0071},{"s":"165","z":-0.097,"v":0.0077},{"s":"165","z":-0.084,"v":0.0078},{"s":"165","z":-0.071,"v":0.0063},{"s":"165","z":-0.0616,"v":0.003},{"s":"165","z":-0.052,"v":0.0022},{"s":"165","z":-0.039,"v":0.0027},{"s":"165","z":-0.019,"v":0.0032},{"s":"165","z":0,"v":0.0033},{"s":"165","z":0.019,"v":0.0032},{"s":"165","z":0.039,"v":0.0027},{"s":"165","z":0.052,"v":0.0022},{"s":"165","z":0.0616,"v":0.003},{"s":"165","z":0.071,"v":0.0063},{"s":"165","z":0.084,"v":0.0078},{"s":"165","z":0.097,"v":0.0077},{"s":"165","z":0.117,"v":0.0071},{"s":"165","z":0.143,"v":0.0062},{"s":"165","z":0.169,"v":0.005},{"s":"165","z":0.1945,"v":0.0032},{"s":"165","z":0.22,"v":0.0011},{"s":"165","z":0.25,"v":0.0},
{"s":"180","z":-0.25,"v":0.0},{"s":"180","z":-0.22,"v":0.0013},{"s":"180","z":-0.1945,"v":0.003},{"s":"180","z":-0.169,"v":0.0045},{"s":"180","z":-0.149,"v":0.0052},{"s":"180","z":-0.123,"v":0.0056},{"s":"180","z":-0.097,"v":0.0056},{"s":"180","z":-0.084,"v":0.005},{"s":"180","z":-0.0746,"v":0.0027},{"s":"180","z":-0.065,"v":0.0021},{"s":"180","z":-0.052,"v":0.0027},{"s":"180","z":-0.039,"v":0.0029},{"s":"180","z":-0.019,"v":0.0033},{"s":"180","z":0,"v":0.0037},{"s":"180","z":0.019,"v":0.0033},{"s":"180","z":0.039,"v":0.0029},{"s":"180","z":0.052,"v":0.0027},{"s":"180","z":0.065,"v":0.0021},{"s":"180","z":0.0746,"v":0.0027},{"s":"180","z":0.084,"v":0.005},{"s":"180","z":0.097,"v":0.0056},{"s":"180","z":0.123,"v":0.0056},{"s":"180","z":0.149,"v":0.0052},{"s":"180","z":0.169,"v":0.0045},{"s":"180","z":0.1945,"v":0.003},{"s":"180","z":0.22,"v":0.0013},{"s":"180","z":0.25,"v":0.0}
],
"col_str":[
{"s":"105","z":-0.25,"v":0.0001},{"s":"105","z":-0.24,"v":0.0007},{"s":"105","z":-0.201,"v":0.0007},{"s":"105","z":-0.162,"v":0.0009},{"s":"105","z":-0.123,"v":0.0013},{"s":"105","z":-0.084,"v":0.0017},{"s":"105","z":-0.045,"v":0.0019},{"s":"105","z":0,"v":0.002},{"s":"105","z":0.045,"v":0.0019},{"s":"105","z":0.084,"v":0.0017},{"s":"105","z":0.123,"v":0.0013},{"s":"105","z":0.162,"v":0.0009},{"s":"105","z":0.201,"v":0.0007},{"s":"105","z":0.24,"v":0.0007},{"s":"105","z":0.25,"v":0.0001},
{"s":"165","z":-0.25,"v":0.0},{"s":"165","z":-0.201,"v":0.001},{"s":"165","z":-0.162,"v":0.002},{"s":"165","z":-0.123,"v":0.0027},{"s":"165","z":-0.084,"v":0.003},{"s":"165","z":0,"v":0.0031},{"s":"165","z":0.084,"v":0.003},{"s":"165","z":0.123,"v":0.0027},{"s":"165","z":0.162,"v":0.002},{"s":"165","z":0.201,"v":0.001},{"s":"165","z":0.25,"v":0.0},
{"s":"180","z":-0.25,"v":0.0},{"s":"180","z":-0.201,"v":0.0008},{"s":"180","z":-0.162,"v":0.0015},{"s":"180","z":-0.123,"v":0.002},{"s":"180","z":-0.084,"v":0.0022},{"s":"180","z":0,"v":0.0021},{"s":"180","z":0.084,"v":0.0022},{"s":"180","z":0.123,"v":0.002},{"s":"180","z":0.162,"v":0.0015},{"s":"180","z":0.201,"v":0.0008},{"s":"180","z":0.25,"v":0.0}
]
},
"columns":3,
"spacing":0,
"bounds":"flush",
"resolve":{"scale":{"x":"independent","y":"independent","color":"independent","stroke":"independent"}},
"concat":[
{"width":358,"height":322,"title":"Central Cavity",
 "layer":[
  {"data":{"name":"bounds"},"mark":{"type":"rule","strokeDash":[3,6],"strokeWidth":3},"encoding":{"x":{"field":"z","type":"quantitative","scale":{"domain":[-0.25,0.25],"nice":false,"zero":false},"axis":null},"stroke":{"field":"k","type":"nominal","scale":{"domain":["b","h"],"range":["#000000","#8a8a8a"]},"legend":null}}},
  {"data":{"name":"den_cc"},"mark":{"type":"line","interpolate":"monotone","strokeWidth":3.5},"encoding":{
   "x":{"field":"z","type":"quantitative","scale":{"domain":[-0.25,0.25],"nice":false,"zero":false},"axis":{"orient":"bottom","values":[-0.24,-0.23,-0.22,-0.21,-0.2,-0.19,-0.18,-0.17,-0.16,-0.15,-0.14,-0.13,-0.12,-0.11,-0.1,-0.09,-0.08,-0.07,-0.06,-0.05,-0.04,-0.03,-0.02,-0.01,0,0.01,0.02,0.03,0.04,0.05,0.06,0.07,0.08,0.09,0.1,0.11,0.12,0.13,0.14,0.15,0.16,0.17,0.18,0.19,0.2,0.21,0.22,0.23,0.24],"tickSize":{"condition":{"test":"abs(datum.value*10-round(datum.value*10))<0.001","value":-8},"value":-4},"labels":false,"title":null}},
   "y":{"field":"v","type":"quantitative","scale":{"domain":[0.1,5],"nice":false,"zero":false},"axis":{"orient":"left","values":[0.2,0.4,0.6,0.8,1,1.2,1.4,1.6,1.8,2,2.2,2.4,2.6,2.8,3,3.2,3.4,3.6,3.8,4,4.2,4.4,4.6,4.8,5],"tickSize":{"condition":{"test":"abs(datum.value-round(datum.value))<0.001","value":-8},"value":-4},"labelExpr":"abs(datum.value-round(datum.value))<0.001 ? format(datum.value,'d') : ''","labelFlush":true,"labelFlushOffset":-3,"labelPadding":17,"title":"Density (10⁸ cm⁻³)","titlePadding":17}},
   "color":{"field":"s","type":"nominal","scale":{"domain":["105","165","180"],"range":["#00008f","#ffe400","#ff4200"]},"legend":null}}},
  {"data":{"name":"den_cc"},"mark":{"type":"line","strokeOpacity":0},"encoding":{
   "x":{"field":"z","type":"quantitative","scale":{"domain":[-0.25,0.25],"nice":false,"zero":false},"axis":{"orient":"top","values":[-0.24,-0.23,-0.22,-0.21,-0.2,-0.19,-0.18,-0.17,-0.16,-0.15,-0.14,-0.13,-0.12,-0.11,-0.1,-0.09,-0.08,-0.07,-0.06,-0.05,-0.04,-0.03,-0.02,-0.01,0,0.01,0.02,0.03,0.04,0.05,0.06,0.07,0.08,0.09,0.1,0.11,0.12,0.13,0.14,0.15,0.16,0.17,0.18,0.19,0.2,0.21,0.22,0.23,0.24],"tickSize":{"condition":{"test":"abs(datum.value*10-round(datum.value*10))<0.001","value":-8},"value":-4},"labels":false,"title":null}},
   "y":{"field":"v","type":"quantitative","scale":{"domain":[0.1,5],"nice":false,"zero":false},"axis":{"orient":"right","values":[0.2,0.4,0.6,0.8,1,1.2,1.4,1.6,1.8,2,2.2,2.4,2.6,2.8,3,3.2,3.4,3.6,3.8,4,4.2,4.4,4.6,4.8,5],"tickSize":{"condition":{"test":"abs(datum.value-round(datum.value))<0.001","value":-8},"value":-4},"labels":false,"title":null}},
   "detail":{"field":"s"}}}
 ],
 "resolve":{"axis":{"x":"independent","y":"independent"}}},
{"width":358,"height":322,"title":"Cavity",
 "layer":[
  {"data":{"name":"den_cav"},"mark":{"type":"line","interpolate":"monotone","strokeWidth":3.5},"encoding":{
   "x":{"field":"z","type":"quantitative","scale":{"domain":[-0.25,0.25],"nice":false,"zero":false},"axis":{"orient":"bottom","values":[-0.24,-0.23,-0.22,-0.21,-0.2,-0.19,-0.18,-0.17,-0.16,-0.15,-0.14,-0.13,-0.12,-0.11,-0.1,-0.09,-0.08,-0.07,-0.06,-0.05,-0.04,-0.03,-0.02,-0.01,0,0.01,0.02,0.03,0.04,0.05,0.06,0.07,0.08,0.09,0.1,0.11,0.12,0.13,0.14,0.15,0.16,0.17,0.18,0.19,0.2,0.21,0.22,0.23,0.24],"tickSize":{"condition":{"test":"abs(datum.value*10-round(datum.value*10))<0.001","value":-8},"value":-4},"labels":false,"title":null}},
   "y":{"field":"v","type":"quantitative","scale":{"domain":[0.1,5],"nice":false,"zero":false},"axis":{"orient":"left","values":[0.2,0.4,0.6,0.8,1,1.2,1.4,1.6,1.8,2,2.2,2.4,2.6,2.8,3,3.2,3.4,3.6,3.8,4,4.2,4.4,4.6,4.8,5],"tickSize":{"condition":{"test":"abs(datum.value-round(datum.value))<0.001","value":-8},"value":-4},"labels":false,"title":null}},
   "color":{"field":"s","type":"nominal","scale":{"domain":["105","165","180"],"range":["#00008f","#ffe400","#ff4200"]},"legend":null}}},
  {"data":{"name":"den_cav"},"mark":{"type":"line","strokeOpacity":0},"encoding":{
   "x":{"field":"z","type":"quantitative","scale":{"domain":[-0.25,0.25],"nice":false,"zero":false},"axis":{"orient":"top","values":[-0.24,-0.23,-0.22,-0.21,-0.2,-0.19,-0.18,-0.17,-0.16,-0.15,-0.14,-0.13,-0.12,-0.11,-0.1,-0.09,-0.08,-0.07,-0.06,-0.05,-0.04,-0.03,-0.02,-0.01,0,0.01,0.02,0.03,0.04,0.05,0.06,0.07,0.08,0.09,0.1,0.11,0.12,0.13,0.14,0.15,0.16,0.17,0.18,0.19,0.2,0.21,0.22,0.23,0.24],"tickSize":{"condition":{"test":"abs(datum.value*10-round(datum.value*10))<0.001","value":-8},"value":-4},"labels":false,"title":null}},
   "y":{"field":"v","type":"quantitative","scale":{"domain":[0.1,5],"nice":false,"zero":false},"axis":{"orient":"right","values":[0.2,0.4,0.6,0.8,1,1.2,1.4,1.6,1.8,2,2.2,2.4,2.6,2.8,3,3.2,3.4,3.6,3.8,4,4.2,4.4,4.6,4.8,5],"tickSize":{"condition":{"test":"abs(datum.value-round(datum.value))<0.001","value":-8},"value":-4},"labels":false,"title":null}},
   "detail":{"field":"s"}}}
 ],
 "resolve":{"axis":{"x":"independent","y":"independent"}}},
{"width":358,"height":322,"title":"Streamer",
 "layer":[
  {"data":{"name":"den_str"},"mark":{"type":"line","interpolate":"monotone","strokeWidth":3.5},"encoding":{
   "x":{"field":"z","type":"quantitative","scale":{"domain":[-0.25,0.25],"nice":false,"zero":false},"axis":{"orient":"bottom","values":[-0.24,-0.23,-0.22,-0.21,-0.2,-0.19,-0.18,-0.17,-0.16,-0.15,-0.14,-0.13,-0.12,-0.11,-0.1,-0.09,-0.08,-0.07,-0.06,-0.05,-0.04,-0.03,-0.02,-0.01,0,0.01,0.02,0.03,0.04,0.05,0.06,0.07,0.08,0.09,0.1,0.11,0.12,0.13,0.14,0.15,0.16,0.17,0.18,0.19,0.2,0.21,0.22,0.23,0.24],"tickSize":{"condition":{"test":"abs(datum.value*10-round(datum.value*10))<0.001","value":-8},"value":-4},"labels":false,"title":null}},
   "y":{"field":"v","type":"quantitative","scale":{"domain":[0.1,5],"nice":false,"zero":false},"axis":{"orient":"left","values":[0.2,0.4,0.6,0.8,1,1.2,1.4,1.6,1.8,2,2.2,2.4,2.6,2.8,3,3.2,3.4,3.6,3.8,4,4.2,4.4,4.6,4.8,5],"tickSize":{"condition":{"test":"abs(datum.value-round(datum.value))<0.001","value":-8},"value":-4},"labels":false,"title":null}},
   "color":{"field":"s","type":"nominal","scale":{"domain":["105","165","180"],"range":["#00008f","#ffe400","#ff4200"]},"legend":null}}},
  {"data":{"name":"den_str"},"mark":{"type":"line","strokeOpacity":0},"encoding":{
   "x":{"field":"z","type":"quantitative","scale":{"domain":[-0.25,0.25],"nice":false,"zero":false},"axis":{"orient":"top","values":[-0.24,-0.23,-0.22,-0.21,-0.2,-0.19,-0.18,-0.17,-0.16,-0.15,-0.14,-0.13,-0.12,-0.11,-0.1,-0.09,-0.08,-0.07,-0.06,-0.05,-0.04,-0.03,-0.02,-0.01,0,0.01,0.02,0.03,0.04,0.05,0.06,0.07,0.08,0.09,0.1,0.11,0.12,0.13,0.14,0.15,0.16,0.17,0.18,0.19,0.2,0.21,0.22,0.23,0.24],"tickSize":{"condition":{"test":"abs(datum.value*10-round(datum.value*10))<0.001","value":-8},"value":-4},"labels":false,"title":null}},
   "y":{"field":"v","type":"quantitative","scale":{"domain":[0.1,5],"nice":false,"zero":false},"axis":{"orient":"right","values":[0.2,0.4,0.6,0.8,1,1.2,1.4,1.6,1.8,2,2.2,2.4,2.6,2.8,3,3.2,3.4,3.6,3.8,4,4.2,4.4,4.6,4.8,5],"tickSize":{"condition":{"test":"abs(datum.value-round(datum.value))<0.001","value":-8},"value":-4},"labels":false,"title":null}},
   "detail":{"field":"s"}}}
 ],
 "resolve":{"axis":{"x":"independent","y":"independent"}}},
{"width":358,"height":322,
 "layer":[
  {"data":{"name":"bounds"},"mark":{"type":"rule","strokeDash":[3,6],"strokeWidth":3},"encoding":{"x":{"field":"z","type":"quantitative","scale":{"domain":[-0.25,0.25],"nice":false,"zero":false},"axis":null},"stroke":{"field":"k","type":"nominal","scale":{"domain":["b","h"],"range":["#000000","#8a8a8a"]},"legend":null}}},
  {"data":{"name":"tem_cc"},"mark":{"type":"line","interpolate":"monotone","strokeWidth":3.5},"encoding":{
   "x":{"field":"z","type":"quantitative","scale":{"domain":[-0.25,0.25],"nice":false,"zero":false},"axis":{"orient":"bottom","values":[-0.24,-0.23,-0.22,-0.21,-0.2,-0.19,-0.18,-0.17,-0.16,-0.15,-0.14,-0.13,-0.12,-0.11,-0.1,-0.09,-0.08,-0.07,-0.06,-0.05,-0.04,-0.03,-0.02,-0.01,0,0.01,0.02,0.03,0.04,0.05,0.06,0.07,0.08,0.09,0.1,0.11,0.12,0.13,0.14,0.15,0.16,0.17,0.18,0.19,0.2,0.21,0.22,0.23,0.24],"tickSize":{"condition":{"test":"abs(datum.value*10-round(datum.value*10))<0.001","value":-8},"value":-4},"labels":false,"title":null}},
   "y":{"field":"v","type":"quantitative","scale":{"domain":[1,3.5],"nice":false,"zero":false},"axis":{"orient":"left","values":[1,1.1,1.2,1.3,1.4,1.5,1.6,1.7,1.8,1.9,2,2.1,2.2,2.3,2.4,2.5,2.6,2.7,2.8,2.9,3,3.1,3.2,3.3,3.4,3.5],"tickSize":{"condition":{"test":"abs(datum.value*2-round(datum.value*2))<0.001","value":-8},"value":-4},"labelExpr":"abs(datum.value*2-round(datum.value*2))<0.001 ? format(datum.value,'') : ''","labelFlush":true,"labelFlushOffset":-3,"labelPadding":17,"title":"Temp (10⁶ K)","titlePadding":18}},
   "color":{"field":"s","type":"nominal","scale":{"domain":["105","165","180"],"range":["#00008f","#ffe400","#ff4200"]},"legend":null}}},
  {"data":{"name":"tem_cc"},"mark":{"type":"line","strokeOpacity":0},"encoding":{
   "x":{"field":"z","type":"quantitative","scale":{"domain":[-0.25,0.25],"nice":false,"zero":false},"axis":{"orient":"top","values":[-0.24,-0.23,-0.22,-0.21,-0.2,-0.19,-0.18,-0.17,-0.16,-0.15,-0.14,-0.13,-0.12,-0.11,-0.1,-0.09,-0.08,-0.07,-0.06,-0.05,-0.04,-0.03,-0.02,-0.01,0,0.01,0.02,0.03,0.04,0.05,0.06,0.07,0.08,0.09,0.1,0.11,0.12,0.13,0.14,0.15,0.16,0.17,0.18,0.19,0.2,0.21,0.22,0.23,0.24],"tickSize":{"condition":{"test":"abs(datum.value*10-round(datum.value*10))<0.001","value":-8},"value":-4},"labels":false,"title":null}},
   "y":{"field":"v","type":"quantitative","scale":{"domain":[1,3.5],"nice":false,"zero":false},"axis":{"orient":"right","values":[1,1.1,1.2,1.3,1.4,1.5,1.6,1.7,1.8,1.9,2,2.1,2.2,2.3,2.4,2.5,2.6,2.7,2.8,2.9,3,3.1,3.2,3.3,3.4,3.5],"tickSize":{"condition":{"test":"abs(datum.value*2-round(datum.value*2))<0.001","value":-8},"value":-4},"labels":false,"title":null}},
   "detail":{"field":"s"}}}
 ],
 "resolve":{"axis":{"x":"independent","y":"independent"}}},
{"width":358,"height":322,
 "layer":[
  {"data":{"name":"tem_cav"},"mark":{"type":"line","interpolate":"monotone","strokeWidth":3.5},"encoding":{
   "x":{"field":"z","type":"quantitative","scale":{"domain":[-0.25,0.25],"nice":false,"zero":false},"axis":{"orient":"bottom","values":[-0.24,-0.23,-0.22,-0.21,-0.2,-0.19,-0.18,-0.17,-0.16,-0.15,-0.14,-0.13,-0.12,-0.11,-0.1,-0.09,-0.08,-0.07,-0.06,-0.05,-0.04,-0.03,-0.02,-0.01,0,0.01,0.02,0.03,0.04,0.05,0.06,0.07,0.08,0.09,0.1,0.11,0.12,0.13,0.14,0.15,0.16,0.17,0.18,0.19,0.2,0.21,0.22,0.23,0.24],"tickSize":{"condition":{"test":"abs(datum.value*10-round(datum.value*10))<0.001","value":-8},"value":-4},"labels":false,"title":null}},
   "y":{"field":"v","type":"quantitative","scale":{"domain":[1,3.5],"nice":false,"zero":false},"axis":{"orient":"left","values":[1,1.1,1.2,1.3,1.4,1.5,1.6,1.7,1.8,1.9,2,2.1,2.2,2.3,2.4,2.5,2.6,2.7,2.8,2.9,3,3.1,3.2,3.3,3.4,3.5],"tickSize":{"condition":{"test":"abs(datum.value*2-round(datum.value*2))<0.001","value":-8},"value":-4},"labels":false,"title":null}},
   "color":{"field":"s","type":"nominal","scale":{"domain":["105","165","180"],"range":["#00008f","#ffe400","#ff4200"]},"legend":null}}},
  {"data":{"name":"tem_cav"},"mark":{"type":"line","strokeOpacity":0},"encoding":{
   "x":{"field":"z","type":"quantitative","scale":{"domain":[-0.25,0.25],"nice":false,"zero":false},"axis":{"orient":"top","values":[-0.24,-0.23,-0.22,-0.21,-0.2,-0.19,-0.18,-0.17,-0.16,-0.15,-0.14,-0.13,-0.12,-0.11,-0.1,-0.09,-0.08,-0.07,-0.06,-0.05,-0.04,-0.03,-0.02,-0.01,0,0.01,0.02,0.03,0.04,0.05,0.06,0.07,0.08,0.09,0.1,0.11,0.12,0.13,0.14,0.15,0.16,0.17,0.18,0.19,0.2,0.21,0.22,0.23,0.24],"tickSize":{"condition":{"test":"abs(datum.value*10-round(datum.value*10))<0.001","value":-8},"value":-4},"labels":false,"title":null}},
   "y":{"field":"v","type":"quantitative","scale":{"domain":[1,3.5],"nice":false,"zero":false},"axis":{"orient":"right","values":[1,1.1,1.2,1.3,1.4,1.5,1.6,1.7,1.8,1.9,2,2.1,2.2,2.3,2.4,2.5,2.6,2.7,2.8,2.9,3,3.1,3.2,3.3,3.4,3.5],"tickSize":{"condition":{"test":"abs(datum.value*2-round(datum.value*2))<0.001","value":-8},"value":-4},"labels":false,"title":null}},
   "detail":{"field":"s"}}}
 ],
 "resolve":{"axis":{"x":"independent","y":"independent"}}},
{"width":358,"height":322,
 "layer":[
  {"data":{"name":"tem_str"},"mark":{"type":"line","interpolate":"monotone","strokeWidth":3.5},"encoding":{
   "x":{"field":"z","type":"quantitative","scale":{"domain":[-0.25,0.25],"nice":false,"zero":false},"axis":{"orient":"bottom","values":[-0.24,-0.23,-0.22,-0.21,-0.2,-0.19,-0.18,-0.17,-0.16,-0.15,-0.14,-0.13,-0.12,-0.11,-0.1,-0.09,-0.08,-0.07,-0.06,-0.05,-0.04,-0.03,-0.02,-0.01,0,0.01,0.02,0.03,0.04,0.05,0.06,0.07,0.08,0.09,0.1,0.11,0.12,0.13,0.14,0.15,0.16,0.17,0.18,0.19,0.2,0.21,0.22,0.23,0.24],"tickSize":{"condition":{"test":"abs(datum.value*10-round(datum.value*10))<0.001","value":-8},"value":-4},"labels":false,"title":null}},
   "y":{"field":"v","type":"quantitative","scale":{"domain":[1,3.5],"nice":false,"zero":false},"axis":{"orient":"left","values":[1,1.1,1.2,1.3,1.4,1.5,1.6,1.7,1.8,1.9,2,2.1,2.2,2.3,2.4,2.5,2.6,2.7,2.8,2.9,3,3.1,3.2,3.3,3.4,3.5],"tickSize":{"condition":{"test":"abs(datum.value*2-round(datum.value*2))<0.001","value":-8},"value":-4},"labels":false,"title":null}},
   "color":{"field":"s","type":"nominal","scale":{"domain":["105","165","180"],"range":["#00008f","#ffe400","#ff4200"]},"legend":null}}},
  {"data":{"name":"tem_str"},"mark":{"type":"line","strokeOpacity":0},"encoding":{
   "x":{"field":"z","type":"quantitative","scale":{"domain":[-0.25,0.25],"nice":false,"zero":false},"axis":{"orient":"top","values":[-0.24,-0.23,-0.22,-0.21,-0.2,-0.19,-0.18,-0.17,-0.16,-0.15,-0.14,-0.13,-0.12,-0.11,-0.1,-0.09,-0.08,-0.07,-0.06,-0.05,-0.04,-0.03,-0.02,-0.01,0,0.01,0.02,0.03,0.04,0.05,0.06,0.07,0.08,0.09,0.1,0.11,0.12,0.13,0.14,0.15,0.16,0.17,0.18,0.19,0.2,0.21,0.22,0.23,0.24],"tickSize":{"condition":{"test":"abs(datum.value*10-round(datum.value*10))<0.001","value":-8},"value":-4},"labels":false,"title":null}},
   "y":{"field":"v","type":"quantitative","scale":{"domain":[1,3.5],"nice":false,"zero":false},"axis":{"orient":"right","values":[1,1.1,1.2,1.3,1.4,1.5,1.6,1.7,1.8,1.9,2,2.1,2.2,2.3,2.4,2.5,2.6,2.7,2.8,2.9,3,3.1,3.2,3.3,3.4,3.5],"tickSize":{"condition":{"test":"abs(datum.value*2-round(datum.value*2))<0.001","value":-8},"value":-4},"labels":false,"title":null}},
   "detail":{"field":"s"}}}
 ],
 "resolve":{"axis":{"x":"independent","y":"independent"}}},
{"width":358,"height":322,
 "layer":[
  {"data":{"name":"bounds"},"mark":{"type":"rule","strokeDash":[3,6],"strokeWidth":3},"encoding":{"x":{"field":"z","type":"quantitative","scale":{"domain":[-0.25,0.25],"nice":false,"zero":false},"axis":null},"stroke":{"field":"k","type":"nominal","scale":{"domain":["b","h"],"range":["#000000","#8a8a8a"]},"legend":null}}},
  {"data":{"name":"rad_cc"},"mark":{"type":"line","interpolate":"monotone","strokeWidth":3.5},"encoding":{
   "x":{"field":"z","type":"quantitative","scale":{"domain":[-0.25,0.25],"nice":false,"zero":false},"axis":{"orient":"bottom","values":[-0.24,-0.23,-0.22,-0.21,-0.2,-0.19,-0.18,-0.17,-0.16,-0.15,-0.14,-0.13,-0.12,-0.11,-0.1,-0.09,-0.08,-0.07,-0.06,-0.05,-0.04,-0.03,-0.02,-0.01,0,0.01,0.02,0.03,0.04,0.05,0.06,0.07,0.08,0.09,0.1,0.11,0.12,0.13,0.14,0.15,0.16,0.17,0.18,0.19,0.2,0.21,0.22,0.23,0.24],"tickSize":{"condition":{"test":"abs(datum.value*10-round(datum.value*10))<0.001","value":-8},"value":-4},"labels":false,"title":null}},
   "y":{"field":"v","type":"quantitative","scale":{"domain":[0,0.1],"nice":false,"zero":false},"axis":{"orient":"left","values":[0,0.004,0.008,0.012,0.016,0.02,0.024,0.028,0.032,0.036,0.04,0.044,0.048,0.052,0.056,0.06,0.064,0.068,0.072,0.076,0.08,0.084,0.088,0.092,0.096,0.1],"tickSize":{"condition":{"test":"abs(datum.value*50-round(datum.value*50))<0.001","value":-8},"value":-4},"labelExpr":"abs(datum.value*50-round(datum.value*50))<0.001 ? format(datum.value,'.2f') : ''","labelFlush":true,"labelFlushOffset":-3,"labelPadding":17,"title":["Radiative Component","(erg/cm²/s/sr)"],"titlePadding":15}},
   "color":{"field":"s","type":"nominal","scale":{"domain":["105","165","180"],"range":["#00008f","#ffe400","#ff4200"]},"legend":null}}},
  {"data":{"name":"rad_cc"},"mark":{"type":"line","strokeOpacity":0},"encoding":{
   "x":{"field":"z","type":"quantitative","scale":{"domain":[-0.25,0.25],"nice":false,"zero":false},"axis":{"orient":"top","values":[-0.24,-0.23,-0.22,-0.21,-0.2,-0.19,-0.18,-0.17,-0.16,-0.15,-0.14,-0.13,-0.12,-0.11,-0.1,-0.09,-0.08,-0.07,-0.06,-0.05,-0.04,-0.03,-0.02,-0.01,0,0.01,0.02,0.03,0.04,0.05,0.06,0.07,0.08,0.09,0.1,0.11,0.12,0.13,0.14,0.15,0.16,0.17,0.18,0.19,0.2,0.21,0.22,0.23,0.24],"tickSize":{"condition":{"test":"abs(datum.value*10-round(datum.value*10))<0.001","value":-8},"value":-4},"labels":false,"title":null}},
   "y":{"field":"v","type":"quantitative","scale":{"domain":[0,0.1],"nice":false,"zero":false},"axis":{"orient":"right","values":[0,0.004,0.008,0.012,0.016,0.02,0.024,0.028,0.032,0.036,0.04,0.044,0.048,0.052,0.056,0.06,0.064,0.068,0.072,0.076,0.08,0.084,0.088,0.092,0.096,0.1],"tickSize":{"condition":{"test":"abs(datum.value*50-round(datum.value*50))<0.001","value":-8},"value":-4},"labels":false,"title":null}},
   "detail":{"field":"s"}}}
 ],
 "resolve":{"axis":{"x":"independent","y":"independent"}}},
{"width":358,"height":322,
 "layer":[
  {"data":{"name":"rad_cav"},"mark":{"type":"line","interpolate":"monotone","strokeWidth":3.5},"encoding":{
   "x":{"field":"z","type":"quantitative","scale":{"domain":[-0.25,0.25],"nice":false,"zero":false},"axis":{"orient":"bottom","values":[-0.24,-0.23,-0.22,-0.21,-0.2,-0.19,-0.18,-0.17,-0.16,-0.15,-0.14,-0.13,-0.12,-0.11,-0.1,-0.09,-0.08,-0.07,-0.06,-0.05,-0.04,-0.03,-0.02,-0.01,0,0.01,0.02,0.03,0.04,0.05,0.06,0.07,0.08,0.09,0.1,0.11,0.12,0.13,0.14,0.15,0.16,0.17,0.18,0.19,0.2,0.21,0.22,0.23,0.24],"tickSize":{"condition":{"test":"abs(datum.value*10-round(datum.value*10))<0.001","value":-8},"value":-4},"labels":false,"title":null}},
   "y":{"field":"v","type":"quantitative","scale":{"domain":[0,0.1],"nice":false,"zero":false},"axis":{"orient":"left","values":[0,0.004,0.008,0.012,0.016,0.02,0.024,0.028,0.032,0.036,0.04,0.044,0.048,0.052,0.056,0.06,0.064,0.068,0.072,0.076,0.08,0.084,0.088,0.092,0.096,0.1],"tickSize":{"condition":{"test":"abs(datum.value*50-round(datum.value*50))<0.001","value":-8},"value":-4},"labels":false,"title":null}},
   "color":{"field":"s","type":"nominal","scale":{"domain":["105","165","180"],"range":["#00008f","#ffe400","#ff4200"]},"legend":null}}},
  {"data":{"name":"rad_cav"},"mark":{"type":"line","strokeOpacity":0},"encoding":{
   "x":{"field":"z","type":"quantitative","scale":{"domain":[-0.25,0.25],"nice":false,"zero":false},"axis":{"orient":"top","values":[-0.24,-0.23,-0.22,-0.21,-0.2,-0.19,-0.18,-0.17,-0.16,-0.15,-0.14,-0.13,-0.12,-0.11,-0.1,-0.09,-0.08,-0.07,-0.06,-0.05,-0.04,-0.03,-0.02,-0.01,0,0.01,0.02,0.03,0.04,0.05,0.06,0.07,0.08,0.09,0.1,0.11,0.12,0.13,0.14,0.15,0.16,0.17,0.18,0.19,0.2,0.21,0.22,0.23,0.24],"tickSize":{"condition":{"test":"abs(datum.value*10-round(datum.value*10))<0.001","value":-8},"value":-4},"labels":false,"title":null}},
   "y":{"field":"v","type":"quantitative","scale":{"domain":[0,0.1],"nice":false,"zero":false},"axis":{"orient":"right","values":[0,0.004,0.008,0.012,0.016,0.02,0.024,0.028,0.032,0.036,0.04,0.044,0.048,0.052,0.056,0.06,0.064,0.068,0.072,0.076,0.08,0.084,0.088,0.092,0.096,0.1],"tickSize":{"condition":{"test":"abs(datum.value*50-round(datum.value*50))<0.001","value":-8},"value":-4},"labels":false,"title":null}},
   "detail":{"field":"s"}}}
 ],
 "resolve":{"axis":{"x":"independent","y":"independent"}}},
{"width":358,"height":322,
 "layer":[
  {"data":{"name":"rad_str"},"mark":{"type":"line","interpolate":"monotone","strokeWidth":3.5},"encoding":{
   "x":{"field":"z","type":"quantitative","scale":{"domain":[-0.25,0.25],"nice":false,"zero":false},"axis":{"orient":"bottom","values":[-0.24,-0.23,-0.22,-0.21,-0.2,-0.19,-0.18,-0.17,-0.16,-0.15,-0.14,-0.13,-0.12,-0.11,-0.1,-0.09,-0.08,-0.07,-0.06,-0.05,-0.04,-0.03,-0.02,-0.01,0,0.01,0.02,0.03,0.04,0.05,0.06,0.07,0.08,0.09,0.1,0.11,0.12,0.13,0.14,0.15,0.16,0.17,0.18,0.19,0.2,0.21,0.22,0.23,0.24],"tickSize":{"condition":{"test":"abs(datum.value*10-round(datum.value*10))<0.001","value":-8},"value":-4},"labels":false,"title":null}},
   "y":{"field":"v","type":"quantitative","scale":{"domain":[0,0.1],"nice":false,"zero":false},"axis":{"orient":"left","values":[0,0.004,0.008,0.012,0.016,0.02,0.024,0.028,0.032,0.036,0.04,0.044,0.048,0.052,0.056,0.06,0.064,0.068,0.072,0.076,0.08,0.084,0.088,0.092,0.096,0.1],"tickSize":{"condition":{"test":"abs(datum.value*50-round(datum.value*50))<0.001","value":-8},"value":-4},"labels":false,"title":null}},
   "color":{"field":"s","type":"nominal","scale":{"domain":["105","165","180"],"range":["#00008f","#ffe400","#ff4200"]},"legend":null}}},
  {"data":{"name":"rad_str"},"mark":{"type":"line","strokeOpacity":0},"encoding":{
   "x":{"field":"z","type":"quantitative","scale":{"domain":[-0.25,0.25],"nice":false,"zero":false},"axis":{"orient":"top","values":[-0.24,-0.23,-0.22,-0.21,-0.2,-0.19,-0.18,-0.17,-0.16,-0.15,-0.14,-0.13,-0.12,-0.11,-0.1,-0.09,-0.08,-0.07,-0.06,-0.05,-0.04,-0.03,-0.02,-0.01,0,0.01,0.02,0.03,0.04,0.05,0.06,0.07,0.08,0.09,0.1,0.11,0.12,0.13,0.14,0.15,0.16,0.17,0.18,0.19,0.2,0.21,0.22,0.23,0.24],"tickSize":{"condition":{"test":"abs(datum.value*10-round(datum.value*10))<0.001","value":-8},"value":-4},"labels":false,"title":null}},
   "y":{"field":"v","type":"quantitative","scale":{"domain":[0,0.1],"nice":false,"zero":false},"axis":{"orient":"right","values":[0,0.004,0.008,0.012,0.016,0.02,0.024,0.028,0.032,0.036,0.04,0.044,0.048,0.052,0.056,0.06,0.064,0.068,0.072,0.076,0.08,0.084,0.088,0.092,0.096,0.1],"tickSize":{"condition":{"test":"abs(datum.value*50-round(datum.value*50))<0.001","value":-8},"value":-4},"labels":false,"title":null}},
   "detail":{"field":"s"}}}
 ],
 "resolve":{"axis":{"x":"independent","y":"independent"}}},
{"width":358,"height":322,
 "layer":[
  {"data":{"name":"bounds"},"mark":{"type":"rule","strokeDash":[3,6],"strokeWidth":3},"encoding":{"x":{"field":"z","type":"quantitative","scale":{"domain":[-0.25,0.25],"nice":false,"zero":false},"axis":null},"stroke":{"field":"k","type":"nominal","scale":{"domain":["b","h"],"range":["#000000","#8a8a8a"]},"legend":null}}},
  {"data":{"name":"col_cc"},"mark":{"type":"line","interpolate":"monotone","strokeWidth":3.5},"encoding":{
   "x":{"field":"z","type":"quantitative","scale":{"domain":[-0.25,0.25],"nice":false,"zero":false},"axis":{"orient":"bottom","values":[-0.24,-0.23,-0.22,-0.21,-0.2,-0.19,-0.18,-0.17,-0.16,-0.15,-0.14,-0.13,-0.12,-0.11,-0.1,-0.09,-0.08,-0.07,-0.06,-0.05,-0.04,-0.03,-0.02,-0.01,0,0.01,0.02,0.03,0.04,0.05,0.06,0.07,0.08,0.09,0.1,0.11,0.12,0.13,0.14,0.15,0.16,0.17,0.18,0.19,0.2,0.21,0.22,0.23,0.24],"tickSize":{"condition":{"test":"abs(datum.value*10-round(datum.value*10))<0.001","value":-8},"value":-4},"labelExpr":"abs(datum.value*10-round(datum.value*10))<0.001 ? (datum.value < -0.001 ? '-' : '') + format(abs(datum.value),'.1f') : ''","labelPadding":28,"title":"Z_pos (Rsun)","titlePadding":7}},
   "y":{"field":"v","type":"quantitative","scale":{"domain":[0,0.025],"nice":false,"zero":false},"axis":{"orient":"left","values":[0,0.001,0.002,0.003,0.004,0.005,0.006,0.007,0.008,0.009,0.01,0.011,0.012,0.013,0.014,0.015,0.016,0.017,0.018,0.019,0.02,0.021,0.022,0.023,0.024,0.025],"tickSize":{"condition":{"test":"abs(datum.value*200-round(datum.value*200))<0.001","value":-8},"value":-4},"labelExpr":"abs(datum.value*200-round(datum.value*200))<0.001 ? format(datum.value,'.3f') : ''","labelFlush":true,"labelFlushOffset":-3,"labelPadding":17,"title":["Collisional Component","(erg/cm²/s/sr)"],"titlePadding":15}},
   "color":{"field":"s","type":"nominal","scale":{"domain":["105","165","180"],"range":["#00008f","#ffe400","#ff4200"]},"legend":null}}},
  {"data":{"name":"col_cc"},"mark":{"type":"line","strokeOpacity":0},"encoding":{
   "x":{"field":"z","type":"quantitative","scale":{"domain":[-0.25,0.25],"nice":false,"zero":false},"axis":{"orient":"top","values":[-0.24,-0.23,-0.22,-0.21,-0.2,-0.19,-0.18,-0.17,-0.16,-0.15,-0.14,-0.13,-0.12,-0.11,-0.1,-0.09,-0.08,-0.07,-0.06,-0.05,-0.04,-0.03,-0.02,-0.01,0,0.01,0.02,0.03,0.04,0.05,0.06,0.07,0.08,0.09,0.1,0.11,0.12,0.13,0.14,0.15,0.16,0.17,0.18,0.19,0.2,0.21,0.22,0.23,0.24],"tickSize":{"condition":{"test":"abs(datum.value*10-round(datum.value*10))<0.001","value":-8},"value":-4},"labels":false,"title":null}},
   "y":{"field":"v","type":"quantitative","scale":{"domain":[0,0.025],"nice":false,"zero":false},"axis":{"orient":"right","values":[0,0.001,0.002,0.003,0.004,0.005,0.006,0.007,0.008,0.009,0.01,0.011,0.012,0.013,0.014,0.015,0.016,0.017,0.018,0.019,0.02,0.021,0.022,0.023,0.024,0.025],"tickSize":{"condition":{"test":"abs(datum.value*200-round(datum.value*200))<0.001","value":-8},"value":-4},"labels":false,"title":null}},
   "detail":{"field":"s"}}},
  {"data":{"values":[{}]},"mark":{"type":"rule","strokeWidth":3,"color":"black"},"encoding":{"x":{"datum":0.0694,"type":"quantitative","scale":{"domain":[-0.25,0.25],"nice":false,"zero":false},"axis":null},"y":{"datum":0.02336,"type":"quantitative","scale":{"domain":[0,0.025],"nice":false,"zero":false},"axis":null},"x2":{"datum":0.0292},"y2":{"datum":0.0201}}},
  {"data":{"values":[{}]},"mark":{"type":"rule","strokeWidth":3,"color":"black"},"encoding":{"x":{"datum":0.1306,"type":"quantitative","scale":{"domain":[-0.25,0.25],"nice":false,"zero":false},"axis":null},"y":{"datum":0.01994,"type":"quantitative","scale":{"domain":[0,0.025],"nice":false,"zero":false},"axis":null},"x2":{"datum":0.0889},"y2":{"datum":0.01667}}},
  {"data":{"values":[{}]},"mark":{"type":"point","shape":"M-1,-0.7L0,0L-1,0.7","filled":false,"stroke":"black","strokeWidth":3,"size":300,"angle":124.6,"opacity":1},"encoding":{"x":{"datum":0.0292,"type":"quantitative","scale":{"domain":[-0.25,0.25],"nice":false,"zero":false},"axis":null},"y":{"datum":0.0201,"type":"quantitative","scale":{"domain":[0,0.025],"nice":false,"zero":false},"axis":null}}},
  {"data":{"values":[{}]},"mark":{"type":"point","shape":"M-1,-0.7L0,0L-1,0.7","filled":false,"stroke":"black","strokeWidth":3,"size":300,"angle":124.6,"opacity":1},"encoding":{"x":{"datum":0.0889,"type":"quantitative","scale":{"domain":[-0.25,0.25],"nice":false,"zero":false},"axis":null},"y":{"datum":0.01667,"type":"quantitative","scale":{"domain":[0,0.025],"nice":false,"zero":false},"axis":null}}},
  {"data":{"values":[{}]},"mark":{"type":"text","align":"left","baseline":"middle","font":"Liberation Serif","fontSize":21,"fontWeight":"bold","color":"black"},"encoding":{"x":{"datum":0.0708,"type":"quantitative","scale":{"domain":[-0.25,0.25],"nice":false,"zero":false},"axis":null},"y":{"datum":0.0222,"type":"quantitative","scale":{"domain":[0,0.025],"nice":false,"zero":false},"axis":null},"text":{"value":"horn"}}},
  {"data":{"values":[{}]},"mark":{"type":"text","align":"left","baseline":"middle","font":"Liberation Serif","fontSize":21,"fontWeight":"bold","color":"black"},"encoding":{"x":{"datum":0.129,"type":"quantitative","scale":{"domain":[-0.25,0.25],"nice":false,"zero":false},"axis":null},"y":{"datum":0.01877,"type":"quantitative","scale":{"domain":[0,0.025],"nice":false,"zero":false},"axis":null},"text":{"value":"cavity"}}},
  {"data":{"values":[{}]},"mark":{"type":"text","align":"left","baseline":"middle","font":"Liberation Serif","fontSize":21,"fontWeight":"bold","color":"black"},"encoding":{"x":{"datum":0.122,"type":"quantitative","scale":{"domain":[-0.25,0.25],"nice":false,"zero":false},"axis":null},"y":{"datum":0.01682,"type":"quantitative","scale":{"domain":[0,0.025],"nice":false,"zero":false},"axis":null},"text":{"value":"boundary"}}}
 ],
 "resolve":{"axis":{"x":"independent","y":"independent"}}},
{"width":358,"height":322,
 "layer":[
  {"data":{"name":"col_cav"},"mark":{"type":"line","interpolate":"monotone","strokeWidth":3.5},"encoding":{
   "x":{"field":"z","type":"quantitative","scale":{"domain":[-0.25,0.25],"nice":false,"zero":false},"axis":{"orient":"bottom","values":[-0.24,-0.23,-0.22,-0.21,-0.2,-0.19,-0.18,-0.17,-0.16,-0.15,-0.14,-0.13,-0.12,-0.11,-0.1,-0.09,-0.08,-0.07,-0.06,-0.05,-0.04,-0.03,-0.02,-0.01,0,0.01,0.02,0.03,0.04,0.05,0.06,0.07,0.08,0.09,0.1,0.11,0.12,0.13,0.14,0.15,0.16,0.17,0.18,0.19,0.2,0.21,0.22,0.23,0.24],"tickSize":{"condition":{"test":"abs(datum.value*10-round(datum.value*10))<0.001","value":-8},"value":-4},"labelExpr":"abs(datum.value*10-round(datum.value*10))<0.001 ? (datum.value < -0.001 ? '-' : '') + format(abs(datum.value),'.1f') : ''","labelPadding":28,"title":"Z_pos (Rsun)","titlePadding":7}},
   "y":{"field":"v","type":"quantitative","scale":{"domain":[0,0.025],"nice":false,"zero":false},"axis":{"orient":"left","values":[0,0.001,0.002,0.003,0.004,0.005,0.006,0.007,0.008,0.009,0.01,0.011,0.012,0.013,0.014,0.015,0.016,0.017,0.018,0.019,0.02,0.021,0.022,0.023,0.024,0.025],"tickSize":{"condition":{"test":"abs(datum.value*200-round(datum.value*200))<0.001","value":-8},"value":-4},"labels":false,"title":null}},
   "color":{"field":"s","type":"nominal","scale":{"domain":["105","165","180"],"range":["#00008f","#ffe400","#ff4200"]},"legend":null}}},
  {"data":{"name":"col_cav"},"mark":{"type":"line","strokeOpacity":0},"encoding":{
   "x":{"field":"z","type":"quantitative","scale":{"domain":[-0.25,0.25],"nice":false,"zero":false},"axis":{"orient":"top","values":[-0.24,-0.23,-0.22,-0.21,-0.2,-0.19,-0.18,-0.17,-0.16,-0.15,-0.14,-0.13,-0.12,-0.11,-0.1,-0.09,-0.08,-0.07,-0.06,-0.05,-0.04,-0.03,-0.02,-0.01,0,0.01,0.02,0.03,0.04,0.05,0.06,0.07,0.08,0.09,0.1,0.11,0.12,0.13,0.14,0.15,0.16,0.17,0.18,0.19,0.2,0.21,0.22,0.23,0.24],"tickSize":{"condition":{"test":"abs(datum.value*10-round(datum.value*10))<0.001","value":-8},"value":-4},"labels":false,"title":null}},
   "y":{"field":"v","type":"quantitative","scale":{"domain":[0,0.025],"nice":false,"zero":false},"axis":{"orient":"right","values":[0,0.001,0.002,0.003,0.004,0.005,0.006,0.007,0.008,0.009,0.01,0.011,0.012,0.013,0.014,0.015,0.016,0.017,0.018,0.019,0.02,0.021,0.022,0.023,0.024,0.025],"tickSize":{"condition":{"test":"abs(datum.value*200-round(datum.value*200))<0.001","value":-8},"value":-4},"labels":false,"title":null}},
   "detail":{"field":"s"}}}
 ],
 "resolve":{"axis":{"x":"independent","y":"independent"}}},
{"width":358,"height":322,
 "layer":[
  {"data":{"name":"col_str"},"mark":{"type":"line","interpolate":"monotone","strokeWidth":3.5},"encoding":{
   "x":{"field":"z","type":"quantitative","scale":{"domain":[-0.25,0.25],"nice":false,"zero":false},"axis":{"orient":"bottom","values":[-0.24,-0.23,-0.22,-0.21,-0.2,-0.19,-0.18,-0.17,-0.16,-0.15,-0.14,-0.13,-0.12,-0.11,-0.1,-0.09,-0.08,-0.07,-0.06,-0.05,-0.04,-0.03,-0.02,-0.01,0,0.01,0.02,0.03,0.04,0.05,0.06,0.07,0.08,0.09,0.1,0.11,0.12,0.13,0.14,0.15,0.16,0.17,0.18,0.19,0.2,0.21,0.22,0.23,0.24],"tickSize":{"condition":{"test":"abs(datum.value*10-round(datum.value*10))<0.001","value":-8},"value":-4},"labelExpr":"abs(datum.value*10-round(datum.value*10))<0.001 ? (datum.value < -0.001 ? '-' : '') + format(abs(datum.value),'.1f') : ''","labelPadding":28,"title":"Z_pos (Rsun)","titlePadding":7}},
   "y":{"field":"v","type":"quantitative","scale":{"domain":[0,0.025],"nice":false,"zero":false},"axis":{"orient":"left","values":[0,0.001,0.002,0.003,0.004,0.005,0.006,0.007,0.008,0.009,0.01,0.011,0.012,0.013,0.014,0.015,0.016,0.017,0.018,0.019,0.02,0.021,0.022,0.023,0.024,0.025],"tickSize":{"condition":{"test":"abs(datum.value*200-round(datum.value*200))<0.001","value":-8},"value":-4},"labels":false,"title":null}},
   "color":{"field":"s","type":"nominal","scale":{"domain":["105","165","180"],"range":["#00008f","#ffe400","#ff4200"]},"legend":{"orient":"none","legendX":261,"legendY":28,"direction":"vertical","title":null,"symbolType":"stroke","symbolSize":1089,"symbolStrokeWidth":4,"labelFont":"Liberation Serif","labelFontSize":20,"labelFontWeight":"bold","labelColor":"black","labelAlign":"right","labelOffset":-55,"labelExpr":"'Time Step ' + datum.label","rowPadding":-8,"padding":0}}}},
  {"data":{"name":"col_str"},"mark":{"type":"line","strokeOpacity":0},"encoding":{
   "x":{"field":"z","type":"quantitative","scale":{"domain":[-0.25,0.25],"nice":false,"zero":false},"axis":{"orient":"top","values":[-0.24,-0.23,-0.22,-0.21,-0.2,-0.19,-0.18,-0.17,-0.16,-0.15,-0.14,-0.13,-0.12,-0.11,-0.1,-0.09,-0.08,-0.07,-0.06,-0.05,-0.04,-0.03,-0.02,-0.01,0,0.01,0.02,0.03,0.04,0.05,0.06,0.07,0.08,0.09,0.1,0.11,0.12,0.13,0.14,0.15,0.16,0.17,0.18,0.19,0.2,0.21,0.22,0.23,0.24],"tickSize":{"condition":{"test":"abs(datum.value*10-round(datum.value*10))<0.001","value":-8},"value":-4},"labels":false,"title":null}},
   "y":{"field":"v","type":"quantitative","scale":{"domain":[0,0.025],"nice":false,"zero":false},"axis":{"orient":"right","values":[0,0.001,0.002,0.003,0.004,0.005,0.006,0.007,0.008,0.009,0.01,0.011,0.012,0.013,0.014,0.015,0.016,0.017,0.018,0.019,0.02,0.021,0.022,0.023,0.024,0.025],"tickSize":{"condition":{"test":"abs(datum.value*200-round(datum.value*200))<0.001","value":-8},"value":-4},"labels":false,"title":null}},
   "detail":{"field":"s"}}}
 ],
 "resolve":{"axis":{"x":"independent","y":"independent"}}}
],
"config":{
 "font":"Liberation Serif",
 "view":{"stroke":null},
 "background":"white",
 "axis":{"labelFont":"Liberation Serif","labelFontSize":22,"labelFontWeight":"bold","labelColor":"black","titleFont":"Liberation Serif","titleFontSize":22,"titleFontWeight":"bold","titleColor":"black","titleLineHeight":25,"domainColor":"black","domainWidth":3,"tickColor":"black","tickWidth":2.5,"grid":false,"labelOverlap":false,"labelFlush":false,"labelBound":false},
 "title":{"font":"Liberation Serif","fontSize":27,"fontWeight":"bold","color":"black","offset":5,"frame":"group"}
}
}
